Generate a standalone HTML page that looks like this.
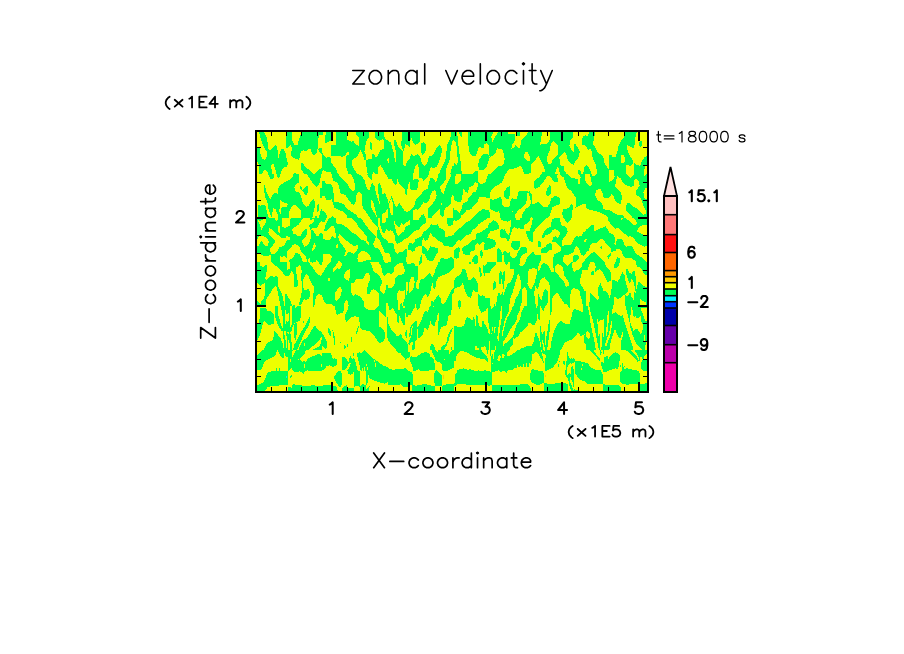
<!DOCTYPE html>
<html><head><meta charset="utf-8"><title>zonal velocity</title>
<style>
html,body{margin:0;padding:0;background:#fff;}
body{width:904px;height:654px;overflow:hidden;font-family:"Liberation Sans",sans-serif;}
svg{display:block;position:absolute;left:0;top:0;}
.g{fill:#00ff55}.y{fill:#eeff00}.c{fill:#00eeff}.o{fill:#ffcc00}
.t{fill:none;stroke:#000;stroke-linecap:round;stroke-linejoin:round}
.lbl{position:absolute;color:transparent;font-family:"Liberation Sans",sans-serif;white-space:nowrap;margin:0;line-height:1}
</style></head><body>

<svg width="904" height="654" viewBox="0 0 904 654">
<rect x="0" y="0" width="904" height="654" fill="#fff"/>
<defs><clipPath id="fc"><rect x="256" y="131" width="392" height="261"/></clipPath></defs>
<g clip-path="url(#fc)" shape-rendering="crispEdges">
<rect x="256" y="131" width="392" height="261" class="y"/>
<polygon class="g" points="257.1,131.8 264.0,131.8 267.0,138.0 268.0,145.3 268.8,150.8 271.7,149.0 275.3,145.0 277.2,147.2 277.9,154.1 277.5,160.7 279.4,154.8 281.2,149.3 283.4,149.3 285.2,151.9 286.7,158.5 288.1,164.3 286.7,166.5 283.0,168.0 281.2,171.6 280.8,174.0 257.1,174.0"/>
<polygon class="y" points="257.1,131.8 258.9,131.8 261.8,142.4 264.0,147.5 267.0,151.9 267.0,155.6 264.8,159.9 262.2,158.8 260.4,154.1 259.7,148.3 257.1,147.9"/>
<polygon class="y" points="257.1,160.7 258.9,164.3 258.9,174.0 257.1,174.0"/>
<polygon class="y" points="262.2,174.0 262.9,172.0 264.8,170.2 267.0,170.9 268.0,174.0"/>
<polygon class="y" points="272.4,174.0 271.7,170.2 271.0,165.8 272.1,163.2 273.5,164.3 275.3,169.4 276.4,174.0"/>
<polygon class="g" points="285.9,131.8 322.0,131.8 322.0,134.4 318.8,135.5 318.1,141.7 317.7,148.3 316.6,153.4 314.4,155.2 312.2,154.1 310.4,149.0 308.9,148.3 306.4,150.8 302.7,150.4 300.9,151.9 299.8,154.8 299.4,159.9 295.4,158.5 291.8,157.0 291.0,154.8 291.8,149.0 291.0,144.2 288.1,147.5 286.1,147.9"/>
<polygon class="y" points="292.1,131.8 302.7,131.8 300.5,135.1 299.1,139.5 297.2,145.7 294.7,145.0 292.5,141.0"/>
<polygon class="g" points="322.0,147.5 319.2,147.9 318.1,149.3 319.2,151.9 322.0,154.8"/>
<polygon class="g" points="300.9,163.2 302.7,162.9 305.6,167.2 308.6,169.4 311.5,172.3 313.7,174.0 304.2,174.0 301.3,169.4 300.7,165.0"/>
<polygon class="g" points="314.4,174.0 318.1,170.2 322.0,168.0 322.0,174.0"/>
<polygon class="g" points="293.6,174.0 294.3,172.7 296.2,173.1 296.5,174.0"/>
<polygon class="g" points="322.0,131.8 323.1,131.8 322.7,135.1 322.0,135.1"/>
<polygon class="g" points="326.0,131.8 331.1,131.8 331.1,141.0 329.3,141.0 325.7,143.9 324.9,138.8 325.7,134.4"/>
<polygon class="g" points="335.5,131.8 346.8,131.8 347.2,139.5 351.2,141.7 353.4,141.0 355.9,144.6 358.5,145.7 358.5,137.3 355.9,133.7 355.9,131.8 368.7,131.8 368.7,137.3 366.2,141.0 365.1,147.5 364.3,151.9 365.8,154.8 366.2,159.9 364.0,159.9 362.9,154.1 360.3,150.1 358.5,154.1 357.0,157.0 352.7,159.2 351.9,164.3 354.1,169.4 356.3,172.3 357.8,174.0 348.6,174.0 346.8,169.4 345.7,164.3 345.7,156.6 348.6,154.8 348.6,152.3 346.8,152.3 345.4,155.2 343.2,156.6 337.3,156.3 331.1,155.9 330.8,148.3 331.1,144.6 335.5,144.6"/>
<polygon class="g" points="322.0,152.6 324.2,155.9 326.4,157.6 329.3,157.0 330.9,158.8 331.5,163.2 334.8,167.2 337.0,170.9 337.7,174.0 331.1,174.0 330.4,171.6 327.1,172.3 323.5,170.2 322.0,171.6"/>
<polygon class="g" points="374.9,131.8 384.1,131.8 384.4,137.3 386.2,140.2 388.0,140.6 388.0,174.0 385.2,174.0 383.3,169.4 380.4,165.0 378.2,167.2 377.5,170.9 378.2,174.0 367.6,174.0 366.5,166.5 366.2,159.9 372.0,158.5 372.4,154.1 374.2,154.5 376.0,158.1 377.5,156.3 380.0,150.4 384.1,148.6 384.1,139.9 382.6,139.1 379.7,141.0 375.7,139.1"/>
<polygon class="g" points="369.8,142.0 372.0,143.1 372.4,151.2 370.6,149.7 369.8,146.1"/>
<polygon class="y" points="387.0,158.8 388.0,158.8 388.0,160.7 387.0,160.7"/>
<polygon class="y" points="373.1,174.0 373.5,172.3 374.6,172.7 374.9,174.0"/>
<polygon class="g" points="401.9,131.8 420.1,131.8 420.1,141.0 417.9,143.5 415.4,145.0 412.8,141.7 411.4,138.0 409.9,141.0 409.5,147.5 407.7,145.3 405.5,144.2 404.8,147.5 403.7,151.2 402.2,149.0 401.1,144.6 401.9,137.3"/>
<polygon class="g" points="388.0,141.0 390.9,142.0 392.4,148.3 393.8,152.6 394.6,159.2 395.7,162.9 396.0,154.1 395.3,148.3 393.8,143.1 394.2,139.9 395.7,140.2 398.2,146.8 400.8,149.7 403.3,151.2 402.6,157.7 403.7,166.5 405.9,165.8 407.0,161.4 409.5,159.2 411.0,154.1 413.2,155.6 415.4,155.6 417.6,153.7 420.1,156.6 421.2,161.4 423.0,165.0 424.5,165.8 427.8,162.1 428.2,158.1 429.6,155.9 431.8,156.6 434.7,151.9 436.2,148.3 439.1,145.3 440.9,145.7 442.0,150.4 440.9,155.6 439.1,160.7 438.0,164.3 436.2,167.2 433.3,168.0 431.1,167.2 429.6,170.2 428.9,174.0 419.4,174.0 418.7,168.0 417.6,164.3 416.1,165.0 414.3,169.4 413.2,174.0 388.0,174.0"/>
<polygon class="y" points="388.0,157.7 389.1,158.1 389.1,162.9 388.0,162.9"/>
<polygon class="g" points="421.2,143.5 423.8,142.0 426.0,144.6 426.3,149.0 424.5,152.6 422.3,155.2 421.0,151.9"/>
<polygon class="g" points="451.2,131.8 454.0,131.8 454.0,139.5 452.2,141.0 450.8,148.3 450.1,155.6 449.3,161.4 446.4,168.0 445.7,174.0 439.1,174.0 440.6,169.4 443.5,164.3 445.7,158.5 446.4,151.9 447.1,144.6 449.3,140.2 450.8,136.6"/>
<polygon class="g" points="454.0,165.8 452.2,166.5 450.8,170.9 450.4,174.0 454.0,174.0"/>
<polygon class="g" points="454.0,131.8 456.9,131.8 457.7,137.3 458.7,148.3 460.2,159.2 461.3,166.5 461.7,174.0 454.0,174.0 454.0,162.9 456.2,164.3 457.3,166.5 457.7,160.7 457.3,151.9 456.2,143.1 454.0,140.2"/>
<polygon class="g" points="459.1,131.8 462.0,131.8 461.7,136.6 459.8,136.2"/>
<polygon class="g" points="467.9,131.8 520.0,131.8 520.0,165.8 517.5,167.2 513.9,168.7 509.5,169.4 507.3,171.6 506.2,174.0 490.5,174.0 492.0,172.3 495.6,168.7 498.5,165.8 501.5,166.5 503.6,164.3 504.7,159.2 504.0,154.1 502.2,149.3 497.1,148.3 496.0,151.9 493.8,154.8 489.8,157.0 489.0,154.1 488.7,145.3 486.1,143.1 484.3,144.6 483.9,147.5 481.4,148.3 479.6,146.4 478.1,149.0 477.0,153.4 475.9,155.9 472.3,155.6 469.7,152.6 468.6,147.5 467.9,138.8"/>
<polygon class="y" points="491.2,137.3 493.4,131.8 499.3,131.8 497.8,132.9 494.9,136.6 492.7,142.4"/>
<polygon class="y" points="507.7,131.8 516.8,131.8 516.8,135.8 520.0,136.6 520.0,148.3 518.2,147.5 515.7,145.0 513.9,147.5 511.3,148.6 512.4,144.6 514.6,141.0 514.6,134.4 507.7,133.7"/>
<polygon class="g" points="483.2,154.1 488.3,154.5 489.8,157.0 488.3,161.4 486.9,166.5 483.2,170.2 479.6,169.8 478.1,166.5 478.8,160.7 481.0,157.0"/>
<polygon class="g" points="472.6,174.0 475.2,171.2 478.1,170.9 478.1,174.0"/>
<polygon class="g" points="520.0,131.8 586.0,131.8 586.0,174.0 520.0,174.0"/>
<polygon class="y" points="520.0,131.8 528.0,131.8 526.2,135.1 523.7,137.3 521.5,140.2 520.7,144.6 520.0,145.3"/>
<polygon class="y" points="542.6,131.8 549.9,131.8 549.6,140.2 547.0,143.9 544.1,144.6 541.9,143.9 540.4,145.3 540.1,143.5 541.2,140.2 541.5,135.8"/>
<polygon class="y" points="552.9,141.0 555.8,143.1 558.0,146.1 558.0,154.1 555.0,157.7 552.9,159.2 551.4,163.6 548.8,163.9 547.4,162.1 547.0,157.7 548.5,153.4 549.9,150.4 550.7,144.6"/>
<polygon class="y" points="525.5,152.3 527.7,152.3 529.5,155.6 529.9,161.4 527.3,161.0 524.7,158.5 524.0,155.6"/>
<polygon class="y" points="520.0,165.0 522.2,168.0 523.7,172.3 524.0,174.0 520.0,174.0"/>
<polygon class="y" points="538.6,155.9 540.4,159.9 543.0,165.0 544.8,169.8 544.5,171.6 541.9,172.3 541.9,174.0 527.7,174.0 531.0,172.3 531.0,165.0 533.9,162.1 536.4,158.5"/>
<polygon class="y" points="557.6,166.9 559.1,169.4 559.8,174.0 555.0,174.0 555.8,170.2"/>
<polygon class="y" points="572.9,131.8 586.0,131.8 586.0,135.1 583.5,135.8 582.1,139.5 582.4,144.6 586.0,145.7 586.0,174.0 581.3,174.0 580.6,170.9 578.4,169.8 578.0,174.0 566.7,174.0 564.5,170.9 563.8,166.5 559.8,165.0 559.4,157.0 564.2,151.9 566.7,154.8 567.5,159.2 571.1,164.3 574.0,164.7 575.5,160.7 578.4,157.7 579.9,151.9 577.7,147.5 575.5,144.2 574.0,144.2 573.7,151.9 571.1,149.7 569.3,146.1 570.0,141.0 572.6,138.0"/>
<polygon class="g" points="586.0,165.8 584.2,167.2 583.2,174.0 586.0,174.0"/>
<polygon class="g" points="588.9,131.8 594.8,131.8 594.4,137.3 593.3,141.7 592.9,144.2 595.5,147.5 598.0,152.6 601.3,154.8 603.5,157.7 604.3,162.9 607.2,167.2 608.6,168.7 609.4,170.9 609.4,174.0 597.0,174.0 596.2,165.0 592.9,159.2 591.8,151.9 590.4,149.0 588.2,149.7 586.0,146.4 586.0,136.6 588.2,135.8"/>
<polygon class="g" points="586.0,165.0 588.2,166.5 590.4,170.2 591.1,174.0 586.0,174.0"/>
<polygon class="g" points="624.0,131.8 637.1,131.8 635.6,135.8 634.6,144.6 633.5,147.9 630.5,146.8 627.6,145.0 626.9,148.3 629.1,154.1 632.0,159.2 633.5,162.9 630.5,165.8 626.5,165.0 625.8,169.4 626.2,174.0 614.1,174.0 613.7,170.5 609.4,169.8 609.4,154.5 611.2,154.5 612.3,156.6 615.6,156.6 617.4,151.9 618.5,146.1 621.0,141.0 624.0,137.3"/>
<polygon class="y" points="621.4,155.2 623.6,154.8 625.1,159.2 624.3,162.5 621.4,162.9 621.0,158.5"/>
<polygon class="g" points="640.0,141.0 642.2,141.3 641.9,145.3 640.4,146.9 638.9,145.7 639.2,142.8"/>
<polygon class="g" points="634.2,162.9 637.1,165.0 640.0,165.8 642.2,160.7 644.4,157.4 647.2,155.6 648.1,164.3 645.5,165.8 644.4,169.4 643.7,174.0 634.2,174.0"/>
<polygon class="g" points="268.0,174.0 274.3,174.0 273.9,177.7 272.1,179.8 270.2,178.4 268.8,175.8"/>
<polygon class="g" points="277.2,174.0 280.5,174.0 279.7,177.3 278.3,178.7 277.2,176.9"/>
<polygon class="g" points="292.9,174.0 299.1,174.0 298.7,182.8 295.8,184.2 294.3,187.9 295.8,191.5 299.8,192.6 301.3,197.4 302.7,203.2 306.4,206.9 308.6,206.1 310.8,201.7 313.7,199.2 315.1,203.2 314.4,209.0 312.9,214.9 312.2,218.0 300.5,218.0 300.9,210.5 297.6,206.9 294.0,204.3 291.0,207.6 289.2,211.2 288.9,218.0 277.9,218.0 277.9,214.9 275.3,209.0 273.2,208.3 272.4,212.7 272.4,218.0 271.7,218.0 270.6,214.9 268.4,208.3 267.7,203.2 265.5,198.1 264.4,192.3 263.7,185.7 264.8,185.0 266.2,190.8 268.0,195.9 270.6,198.8 272.8,194.4 275.0,193.0 277.5,193.7 277.9,188.6 280.1,185.0 285.2,182.0 289.6,179.8 292.9,176.9"/>
<polygon class="y" points="280.5,200.3 284.1,202.8 287.8,203.6 287.0,206.5 281.6,206.5 281.2,214.9 279.4,212.0 279.7,204.7"/>
<polygon class="g" points="257.5,203.9 260.4,205.8 263.3,204.7 265.1,204.7 265.9,206.9 267.0,212.7 268.8,218.0 257.5,218.0"/>
<polygon class="g" points="307.1,174.0 321.0,174.0 320.2,181.3 318.8,185.0 316.6,186.8 313.7,184.2 310.8,180.6 308.6,176.9"/>
<polygon class="g" points="320.2,188.6 322.0,187.1 322.0,198.1 320.2,197.4"/>
<polygon class="g" points="300.2,186.0 301.6,186.8 302.4,189.7 304.2,188.6 306.4,186.0 307.8,186.4 308.2,190.8 307.1,194.4 304.9,194.8 303.5,192.3 301.3,190.1 300.2,188.6"/>
<polygon class="g" points="317.3,204.7 318.8,203.9 318.8,210.5 317.3,212.0 316.6,208.3"/>
<polygon class="g" points="322.0,208.3 320.6,210.5 319.5,214.9 318.8,218.0 322.0,218.0"/>
<polygon class="g" points="314.8,218.0 315.5,216.0 317.3,216.0 317.3,218.0"/>
<polygon class="g" points="322.0,181.3 324.9,180.9 325.7,183.5 331.1,183.9 333.0,188.6 333.7,195.2 331.5,198.8 330.0,200.3 326.4,199.6 324.9,196.6 322.0,195.9"/>
<polygon class="g" points="331.5,174.0 338.4,174.0 341.0,177.7 344.6,180.6 347.6,184.2 349.7,187.9 352.7,190.8 354.5,190.4 354.5,182.8 353.4,178.4 351.2,174.0 358.9,174.0 362.9,177.7 365.1,181.3 365.8,185.7 367.6,189.3 369.8,190.4 370.9,185.7 372.4,182.8 374.6,186.4 376.0,193.0 377.5,198.1 379.7,204.7 380.4,206.5 381.9,204.7 382.2,195.2 384.1,193.0 386.2,195.2 387.0,198.8 388.0,199.6 388.0,209.0 386.2,209.8 384.8,213.4 382.6,212.7 382.2,218.0 377.5,218.0 376.0,213.4 374.6,207.6 373.1,201.7 371.6,199.9 370.9,203.2 371.6,208.3 374.6,213.4 376.8,218.0 370.2,218.0 366.5,212.7 362.9,208.3 361.8,203.2 361.8,194.4 360.0,192.3 357.8,192.3 356.3,195.9 355.9,201.0 354.1,204.7 351.9,204.3 348.3,199.6 345.4,195.2 340.3,193.3 339.5,188.6 337.7,182.8 333.3,180.6 332.2,176.9"/>
<polygon class="g" points="379.3,182.8 380.8,185.0 382.2,190.8 382.6,195.2 382.2,204.7 380.4,206.5 379.7,201.7 378.6,195.9 378.2,188.6 378.2,185.0"/>
<polygon class="g" points="366.9,174.0 371.6,174.0 372.0,180.6 369.5,178.4"/>
<polygon class="g" points="386.2,174.0 388.0,174.0 388.0,177.7 387.0,176.9"/>
<polygon class="g" points="322.0,210.9 324.9,212.0 326.7,214.9 327.1,218.0 322.0,218.0"/>
<polygon class="g" points="330.8,218.0 332.6,215.6 334.0,218.0"/>
<polygon class="g" points="331.5,198.8 333.7,195.2 334.4,201.7 340.3,202.8 343.9,204.7 346.8,208.3 351.2,211.6 356.3,214.9 358.5,218.0 347.6,218.0 346.8,214.9 343.9,212.0 338.8,209.8 334.0,207.6 333.0,203.2"/>
<polygon class="g" points="388.0,174.0 412.8,174.0 412.5,178.4 413.6,179.8 417.2,178.4 418.7,180.6 417.9,187.1 416.1,190.4 412.1,190.4 409.9,188.6 409.9,181.3 407.7,185.0 407.3,194.4 406.3,194.8 405.2,193.0 404.8,189.3 399.0,183.9 397.5,179.1 397.1,183.5 395.3,185.7 393.5,182.8 392.0,179.5 388.0,179.1"/>
<polygon class="g" points="419.0,174.0 428.9,174.0 427.4,176.9 423.8,180.9 421.6,178.4 419.0,178.4"/>
<polygon class="g" points="438.4,174.0 436.9,181.3 435.5,181.7 433.3,178.4 430.3,178.4 428.9,182.8 427.8,188.6 423.8,190.4 420.9,194.4 417.2,198.1 415.4,201.0 414.3,206.1 412.1,209.0 407.3,212.0 404.4,210.5 401.9,206.9 399.3,203.2 396.8,206.9 395.3,206.1 393.8,201.7 392.4,198.1 391.3,195.9 390.6,198.8 388.0,203.9 388.0,218.0 412.8,218.0 413.2,210.5 415.7,209.0 417.9,209.8 420.1,207.6 421.9,204.7 423.8,202.1 426.0,203.9 428.9,201.0 430.3,195.9 432.5,191.5 434.7,190.1 436.2,191.5 436.6,195.9 434.7,201.0 431.8,204.7 428.0,209.0 427.8,218.0 431.1,218.0 434.7,213.8 438.4,210.5 439.8,209.0 440.2,214.9 442.0,217.1 443.9,215.6 444.2,210.5 445.7,207.6 448.6,206.1 450.8,203.2 451.2,198.1 452.2,195.2 454.0,195.9 454.0,174.0 450.8,174.0 450.8,176.9 448.6,180.6 446.4,185.0 445.3,189.3 443.5,193.7 441.7,192.3 440.2,188.6 440.6,185.7 444.2,182.0 446.4,178.4 445.7,174.0"/>
<polygon class="y" points="390.9,199.2 392.0,198.8 393.1,205.4 393.1,214.9 391.3,214.9 389.8,210.5 389.1,204.7"/>
<polygon class="y" points="440.9,202.8 442.0,202.8 442.0,205.0 440.9,205.0"/>
<polygon class="g" points="420.1,218.0 421.6,214.9 423.8,214.2 425.2,218.0"/>
<polygon class="g" points="454.0,207.6 453.0,209.0 452.6,218.0 454.0,218.0"/>
<polygon class="g" points="454.0,174.0 505.1,174.0 503.6,178.4 502.2,182.0 498.5,185.0 493.8,187.1 491.2,190.8 490.1,193.0 490.1,198.1 487.6,197.7 485.4,197.4 479.2,197.4 477.4,202.5 473.7,205.4 471.5,209.0 466.4,210.5 464.2,213.4 461.3,215.6 460.9,218.0 454.0,218.0"/>
<polygon class="y" points="455.8,174.0 460.9,174.0 460.6,180.6 457.7,184.6 455.5,183.5 455.3,176.9"/>
<polygon class="y" points="478.1,174.0 488.3,174.0 486.9,178.4 485.4,182.0 483.2,183.5 479.6,183.5 478.1,181.3"/>
<polygon class="y" points="475.5,182.0 477.7,183.5 477.4,188.6 475.9,191.5 473.0,192.3 471.2,195.2 468.6,198.1 466.8,202.1 463.1,203.2 462.0,206.9 460.9,210.5 459.5,212.7 456.9,210.5 454.0,209.8 454.0,200.3 457.7,201.7 461.3,201.7 462.0,197.4 463.1,193.0 463.3,189.0 466.0,192.3 467.5,192.6 469.3,187.5 472.6,185.7"/>
<polygon class="g" points="483.2,209.0 486.1,209.8 489.0,210.5 489.8,213.4 490.1,218.0 472.3,218.0 475.2,214.9 478.8,212.0 481.7,209.8"/>
<polygon class="g" points="490.1,198.8 492.7,199.6 496.3,199.2 499.3,197.0 500.7,197.4 502.2,201.0 502.6,205.4 505.1,206.9 509.5,206.5 510.2,201.7 512.0,198.1 513.9,199.2 516.1,199.6 517.5,195.9 518.6,191.5 520.0,190.8 520.0,209.0 517.5,211.2 515.3,214.2 515.0,218.0 500.0,218.0 499.6,213.4 498.5,211.2 496.3,212.0 493.4,210.5 490.1,209.0"/>
<polygon class="y" points="512.0,210.9 513.1,210.9 513.1,212.0 512.0,212.0"/>
<polygon class="g" points="509.5,186.0 510.2,188.6 510.2,194.4 508.8,198.5 505.8,198.5 504.0,195.9 504.4,191.5 506.6,188.2"/>
<polygon class="g" points="540.8,174.0 558.0,174.0 556.5,176.2 558.0,178.4 558.0,181.7 554.3,181.7 552.1,179.1 549.6,176.2 547.0,175.5 545.6,178.4 543.4,182.0 539.7,186.4 535.7,189.0 533.9,187.1 533.9,181.3 536.8,178.4 540.1,176.9"/>
<polygon class="g" points="549.6,185.0 551.4,187.9 551.4,193.0 549.2,195.5 546.6,195.9 545.9,192.3 547.4,188.2"/>
<polygon class="g" points="559.8,174.0 586.0,174.0 586.0,203.9 582.1,204.3 578.4,206.1 575.5,207.6 575.9,198.1 574.0,195.2 571.1,190.8 567.8,188.6 565.6,183.5 563.8,177.7 561.6,176.2"/>
<polygon class="y" points="567.5,174.0 578.4,174.0 580.6,176.9 579.9,183.5 578.4,183.9 577.7,179.1 571.1,177.7"/>
<polygon class="y" points="584.6,174.0 586.0,174.0 586.0,181.3 584.8,181.3"/>
<polygon class="g" points="520.0,190.8 524.4,191.5 528.0,190.4 529.1,193.0 527.3,193.3 527.3,198.1 525.8,203.2 522.2,207.6 520.0,209.8"/>
<polygon class="g" points="528.8,190.4 531.7,194.4 532.0,203.2 534.2,204.7 535.7,202.8 539.0,202.1 541.2,204.7 542.6,206.5 547.7,206.5 549.9,203.2 551.0,198.8 554.3,196.3 558.0,196.6 560.0,198.8 560.0,203.9 556.5,205.4 552.1,207.2 551.0,212.0 549.6,215.6 548.1,218.0 532.0,218.0 531.3,217.1 531.0,218.0 521.5,218.0 522.2,214.2 525.8,209.0 529.5,206.1 531.0,203.2 530.2,198.1 529.1,195.2"/>
<polygon class="g" points="563.1,209.0 568.2,208.3 570.4,205.4 571.8,203.9 572.9,206.1 572.9,209.0 571.8,212.0 571.5,218.0 563.1,218.0 562.3,213.4"/>
<polygon class="g" points="586.0,174.0 648.1,174.0 648.1,218.0 586.0,218.0"/>
<polygon class="y" points="586.0,174.0 589.7,174.0 591.1,178.4 591.8,185.0 590.0,186.8 587.5,183.5 586.0,182.8"/>
<polygon class="y" points="591.5,174.0 595.9,174.0 595.5,175.5 591.8,175.5"/>
<polygon class="y" points="609.4,174.0 614.1,174.0 614.8,176.9 613.0,179.8 609.4,181.7"/>
<polygon class="y" points="626.9,174.0 634.2,174.0 632.7,176.2 630.2,178.0 628.3,176.2"/>
<polygon class="y" points="643.7,174.0 646.2,174.0 644.4,175.8"/>
<polygon class="y" points="648.1,187.1 648.1,199.6 644.4,198.1 643.3,192.3 645.1,188.6"/>
<polygon class="y" points="617.4,176.2 620.3,178.0 623.2,182.8 626.2,185.3 630.5,186.8 633.5,186.0 634.2,180.6 635.6,178.4 638.6,180.9 639.7,185.7 636.4,190.4 636.4,195.2 640.0,197.4 642.2,201.7 643.7,206.1 645.9,210.5 645.5,214.2 642.9,214.9 640.0,212.0 636.4,208.3 632.7,206.1 629.8,203.2 627.2,203.2 626.2,206.1 626.5,210.5 629.1,213.4 631.3,215.6 632.0,218.0 624.7,218.0 623.2,215.6 620.3,214.9 616.7,214.5 612.3,212.0 609.4,210.1 606.4,210.5 603.2,208.3 602.1,203.2 597.0,199.6 595.1,194.4 596.2,189.7 600.6,189.3 602.4,192.3 603.2,196.6 605.3,198.5 609.0,198.1 611.2,194.4 613.0,194.8 614.5,198.8 615.9,202.1 620.3,204.3 621.8,198.8 621.4,193.0 618.1,189.7 615.2,186.4 615.9,181.3"/>
<polygon class="y" points="586.0,207.2 588.9,209.8 593.3,210.5 599.1,212.0 604.3,214.9 607.2,216.3 607.9,218.0 586.0,218.0"/>
<polygon class="g" points="257.1,218.0 322.0,218.0 322.0,262.0 257.1,262.0"/>
<polygon class="y" points="257.8,219.8 260.4,220.9 263.3,219.1 265.9,219.1 265.5,223.1 263.3,226.8 261.5,230.0 260.0,225.3"/>
<polygon class="y" points="274.3,218.0 277.9,218.0 277.2,221.3 275.7,220.2"/>
<polygon class="y" points="282.3,218.0 291.8,218.0 289.9,219.5 289.9,225.3 285.2,227.9 282.3,226.8"/>
<polygon class="y" points="278.3,226.4 279.7,226.0 280.5,231.1 279.7,233.7 278.3,231.9"/>
<polygon class="y" points="269.1,228.2 271.7,229.3 275.7,233.3 280.1,236.6 281.6,238.1 285.9,238.4 286.3,236.3 288.1,236.6 289.9,237.7 289.6,239.9 286.3,240.6 284.8,245.0 281.6,246.5 279.0,247.2 277.9,250.9 275.0,253.8 271.3,254.5 269.9,249.4 272.4,245.7 275.3,241.4 272.8,238.4 269.9,235.5 268.4,232.6"/>
<polygon class="y" points="258.9,235.9 263.3,236.3 267.0,237.7 268.8,241.4 268.0,245.7 265.9,246.5 263.3,243.6 261.5,241.0 260.0,242.8 258.9,245.7 257.1,245.7 257.1,239.9"/>
<polygon class="y" points="257.1,253.8 260.4,254.1 263.3,256.0 267.7,256.0 271.0,254.9 271.0,262.0 257.1,262.0"/>
<polygon class="y" points="303.5,218.0 310.0,218.0 310.4,219.8 314.4,219.1 314.4,221.7 311.5,223.8 308.6,225.3 306.4,228.2 302.7,231.5 300.5,235.5 298.0,236.3 295.8,234.4 292.9,233.7 292.1,229.0 295.4,226.8 298.3,224.9 300.5,221.7"/>
<polygon class="y" points="308.6,225.3 310.8,230.4 310.8,238.4 309.7,242.1 307.1,245.7 304.6,246.8 302.7,243.6 302.0,240.3 304.2,238.8 306.4,235.5 307.1,231.9 306.4,228.2"/>
<polygon class="y" points="322.0,220.9 322.0,232.6 319.5,233.7 318.1,236.3 316.6,236.3 315.1,233.3 312.9,230.4 310.8,230.4 312.9,227.5 316.6,227.9 318.4,225.3 319.9,222.4"/>
<polygon class="y" points="314.4,243.2 315.9,245.7 314.4,249.4 312.6,251.6 312.2,248.7 313.3,245.4"/>
<polygon class="y" points="294.0,244.3 297.6,244.6 299.8,247.9 301.3,251.6 304.2,254.5 306.4,257.4 306.7,262.0 302.7,262.0 301.3,257.4 299.1,253.8 295.4,253.0 294.0,256.7 290.3,259.6 288.1,262.0 280.1,262.0 280.5,256.3 281.9,257.4 284.1,255.2 285.6,257.4 287.4,258.9 287.4,251.6 290.3,248.7 292.1,245.7"/>
<polygon class="y" points="308.6,258.2 310.0,258.2 310.0,262.0 308.2,262.0"/>
<polygon class="y" points="316.6,260.3 318.1,262.0 315.1,262.0"/>
<polygon class="g" points="322.0,218.0 388.0,218.0 388.0,262.0 322.0,262.0"/>
<polygon class="y" points="322.0,222.4 324.9,221.7 326.4,218.0 329.3,218.0 327.1,221.7 324.9,226.0 324.2,231.1 326.4,230.8 331.5,226.0 333.7,226.0 335.1,229.0 335.5,232.6 335.9,237.7 334.4,238.4 333.0,235.9 331.1,237.7 330.0,239.9 327.1,239.9 323.5,239.2 323.1,234.1 322.0,233.3"/>
<polygon class="y" points="335.5,218.0 351.2,218.0 354.1,220.2 356.3,223.1 358.5,226.8 360.7,229.7 364.3,233.3 366.5,236.3 366.9,239.9 368.7,242.8 369.8,246.5 368.0,245.0 365.8,241.4 362.9,239.9 360.0,239.2 358.1,236.3 354.9,233.7 351.2,231.9 347.6,228.2 343.9,225.3 340.3,223.5 336.6,223.5"/>
<polygon class="y" points="360.3,218.0 369.5,218.0 373.1,222.4 376.4,226.0 378.2,227.5 377.5,230.4 376.4,236.3 379.7,239.9 381.9,245.7 384.1,250.9 385.5,253.0 388.0,253.0 388.0,262.0 384.1,262.0 382.6,256.0 380.4,251.6 378.2,248.7 375.3,247.9 373.1,244.3 374.6,240.6 376.0,237.0 373.1,234.1 369.5,229.7 365.8,225.3 362.9,220.9"/>
<polygon class="y" points="378.2,218.0 380.4,218.0 380.4,225.3 382.6,231.9 384.8,233.7 386.2,228.2 388.0,230.4 388.0,242.1 386.2,239.9 384.1,238.4 381.9,236.3 380.4,232.6 378.9,228.2 378.2,225.3"/>
<polygon class="y" points="382.2,218.0 385.9,218.0 385.5,222.4 384.1,223.8 382.2,222.4"/>
<polygon class="y" points="339.2,234.1 341.0,235.5 344.6,239.2 348.3,242.1 351.2,244.3 354.1,246.1 357.8,245.0 358.1,247.2 357.0,250.1 355.6,252.3 354.1,253.8 349.7,251.9 347.2,253.0 346.1,256.0 343.9,256.7 345.0,253.0 346.1,250.9 343.9,247.2 341.0,243.6 339.2,240.6 338.1,237.0"/>
<polygon class="y" points="336.6,243.9 338.1,243.9 338.1,247.6 336.2,247.9"/>
<polygon class="y" points="323.1,254.1 326.4,254.5 329.3,254.1 331.9,256.3 331.1,259.6 330.8,262.0 323.1,262.0"/>
<polygon class="y" points="361.8,251.2 365.8,251.6 369.5,254.5 370.9,257.4 371.6,260.0 367.3,260.0 363.6,261.1 362.9,262.0 358.5,262.0 357.4,258.9 357.8,255.2 359.6,252.7"/>
<polygon class="y" points="338.4,261.1 339.9,261.1 339.9,262.0 338.4,262.0"/>
<polygon class="g" points="388.0,218.0 413.2,218.0 413.2,219.5 418.7,219.5 419.0,218.0 426.0,218.0 425.6,223.1 423.0,224.6 420.1,227.1 419.4,229.7 415.7,230.4 412.1,233.7 408.4,237.0 404.8,239.2 401.9,241.4 397.5,243.9 395.7,242.1 394.9,237.0 394.2,233.7 392.0,230.8 390.2,230.0 388.0,231.9"/>
<polygon class="y" points="394.2,220.2 395.3,223.8 398.2,226.8 400.0,226.4 401.1,223.1 403.7,224.9 405.2,223.5 409.5,220.2 409.9,224.6 407.7,225.7 405.2,227.1 404.4,231.1 401.1,233.3 398.2,235.9 396.4,233.3 395.3,228.2 394.2,223.8"/>
<polygon class="g" points="454.0,235.2 447.9,236.3 445.7,237.7 444.9,235.5 444.6,231.1 442.0,229.0 439.1,227.5 437.6,224.2 434.7,225.3 431.1,224.2 428.9,228.2 426.0,230.4 423.0,232.2 421.9,236.3 418.7,237.7 415.4,239.2 414.6,242.1 412.8,243.6 409.5,242.8 408.1,245.4 408.1,250.1 411.4,250.5 412.8,251.9 414.6,250.5 416.1,246.8 421.6,246.1 421.7,242.8 422.3,239.9 423.4,238.1 425.2,240.6 427.8,240.3 428.9,237.0 430.3,233.0 433.3,236.6 435.5,238.1 438.4,240.6 442.0,242.8 444.9,246.1 451.5,246.8 454.0,246.1"/>
<polygon class="g" points="421.9,246.1 423.8,245.7 425.6,247.9 427.4,250.9 429.2,248.7 430.3,246.1 431.8,246.8 434.7,247.2 438.0,248.7 438.4,252.3 436.2,254.5 434.7,257.8 433.3,260.3 430.3,261.1 427.8,260.0 426.0,257.4 425.2,254.5 422.3,253.0"/>
<polygon class="g" points="419.4,262.0 419.8,258.2 421.6,254.9 422.2,257.4 421.9,262.0"/>
<polygon class="g" points="388.0,242.8 390.9,243.6 393.1,242.8 394.2,247.2 395.3,252.3 397.1,253.8 399.7,252.3 402.6,251.6 405.5,249.0 407.0,249.4 406.6,254.5 406.3,262.0 390.9,262.0 390.9,257.4 389.5,254.5 388.0,253.0"/>
<polygon class="g" points="447.1,218.0 454.0,218.0 454.0,220.9 453.0,221.3 452.6,225.3 448.6,225.7 447.1,223.8"/>
<polygon class="g" points="440.2,262.0 440.6,258.5 442.0,257.8 444.2,258.5 447.9,258.9 450.1,257.1 452.2,257.4 454.0,259.6 454.0,262.0"/>
<polygon class="g" points="454.0,218.0 459.8,218.0 459.1,219.8 456.2,220.9 454.0,220.2"/>
<polygon class="g" points="472.3,218.0 487.9,218.0 486.1,219.5 482.5,221.7 478.1,224.6 475.9,228.2 472.3,230.0 470.8,234.1 466.4,235.2 463.5,238.4 461.3,240.6 457.7,240.3 455.5,243.6 454.0,245.0 454.0,234.1 456.2,231.1 460.6,227.5 464.2,223.8 467.1,221.7 470.8,220.2"/>
<polygon class="g" points="493.8,220.2 497.1,222.4 498.9,225.3 498.5,229.0 494.9,230.4 490.5,231.5 488.3,234.8 487.2,238.1 489.8,238.4 492.3,238.8 494.9,240.6 496.0,243.6 494.9,246.5 492.0,248.3 488.3,249.4 484.7,250.5 483.9,247.2 484.7,242.8 483.6,242.1 481.7,242.8 479.6,244.6 477.4,243.2 475.5,245.0 475.2,248.7 473.7,250.5 470.8,251.2 469.7,254.5 466.8,255.6 463.5,253.8 462.0,250.1 462.8,247.2 465.3,245.7 468.2,244.6 471.5,240.6 473.7,239.9 475.5,239.2 475.9,233.7 478.8,233.3 483.9,230.0 487.6,227.5 489.0,223.8 492.0,221.7"/>
<polygon class="g" points="481.4,250.1 482.5,252.3 482.5,256.0 481.4,257.8 480.3,255.2 480.1,251.9"/>
<polygon class="g" points="458.7,246.8 459.8,248.7 459.5,252.3 458.7,257.4 456.6,258.9 454.0,257.8 454.0,250.9 456.2,248.7"/>
<polygon class="g" points="471.9,262.0 472.3,258.9 474.4,256.0 476.6,254.9 478.1,257.4 478.5,262.0"/>
<polygon class="g" points="500.7,218.0 510.6,218.0 510.6,220.2 508.0,221.7 504.4,220.9 501.5,219.8"/>
<polygon class="g" points="511.3,218.0 515.3,218.0 516.1,219.5 520.0,219.8 520.0,228.2 516.8,228.6 513.9,227.1 512.4,229.7 510.9,233.3 510.2,236.3 509.1,239.9 508.0,241.7 505.8,238.4 504.0,238.1 501.5,238.4 500.0,236.3 500.0,230.0 501.5,229.0 503.6,230.0 504.7,229.0 506.2,232.6 508.0,235.2 510.2,232.6 510.6,225.3"/>
<polygon class="g" points="512.4,241.4 517.5,241.4 519.0,241.0 520.0,241.4 520.0,247.2 519.0,247.6 518.2,250.1 515.3,250.5 512.4,248.3 510.9,245.7 511.3,242.8"/>
<polygon class="g" points="497.8,248.3 499.6,248.7 501.5,252.3 502.6,254.5 504.4,250.5 505.8,251.6 508.0,253.0 509.9,251.2 510.2,256.0 511.7,257.4 514.6,257.8 516.8,256.0 517.9,251.6 520.0,250.1 520.0,262.0 497.1,262.0 496.7,256.0 497.1,250.9"/>
<polygon class="y" points="501.5,255.2 503.6,254.5 504.4,258.9 504.0,262.0 502.2,262.0 501.8,258.9"/>
<polygon class="g" points="520.0,218.0 529.9,218.0 529.9,220.9 527.3,223.1 524.4,224.9 523.7,228.6 520.0,229.0"/>
<polygon class="g" points="533.1,218.0 546.3,218.0 543.4,221.3 541.2,223.5 538.3,226.4 535.3,229.3 533.5,232.2 533.1,238.4 532.8,241.7 529.9,241.4 528.0,237.7 525.8,232.6 526.6,231.1 529.5,230.8 531.0,226.8 532.0,222.4"/>
<polygon class="g" points="552.1,219.5 554.3,218.0 559.8,218.0 560.5,222.4 561.6,225.3 564.5,226.4 566.7,228.2 567.8,231.5 566.0,235.5 563.8,237.7 562.3,239.9 562.3,245.7 564.2,246.5 564.5,245.0 571.1,245.0 572.6,242.1 574.0,238.4 576.2,236.3 579.1,236.6 582.1,235.5 582.8,232.6 586.0,231.1 586.0,238.4 584.2,240.6 584.2,241.7 586.0,242.1 586.0,253.0 583.5,255.6 581.3,255.2 579.9,251.6 578.4,247.2 576.2,246.1 574.4,248.7 573.7,251.6 571.1,253.8 567.5,254.9 563.8,255.2 563.1,258.9 563.1,262.0 553.2,262.0 553.2,257.4 554.3,254.5 558.0,252.7 560.5,251.2 560.9,247.2 559.4,245.4 557.2,243.6 555.0,242.1 552.1,241.7 553.2,237.3 555.8,235.9 557.2,238.1 559.4,236.3 559.8,232.6 558.0,230.0 555.0,229.3 552.5,229.7 551.4,232.6 548.5,234.4 545.6,234.8 544.1,238.1 542.3,238.4 541.9,235.9 543.4,233.3 545.2,230.0 547.4,228.2 550.7,226.8 551.4,223.1"/>
<polygon class="g" points="564.2,218.0 571.1,218.0 570.4,220.9 567.5,222.7 565.3,220.9"/>
<polygon class="g" points="538.3,241.0 540.1,241.4 541.2,243.6 540.8,246.8 538.3,246.8 537.9,243.6"/>
<polygon class="g" points="549.6,243.2 551.4,243.6 552.1,245.7 551.8,249.4 549.2,250.5 547.0,252.3 544.8,253.4 541.2,253.4 541.2,248.7 543.4,247.9 545.6,246.5 547.4,244.3"/>
<polygon class="g" points="520.0,247.9 522.9,246.5 525.8,246.5 526.9,248.7 526.9,252.3 524.4,253.8 521.5,256.0 520.0,258.9"/>
<polygon class="g" points="533.1,251.9 535.3,254.5 541.2,254.9 541.2,257.4 540.4,262.0 526.2,262.0 526.6,258.2 529.5,255.2"/>
<polygon class="g" points="574.0,255.2 577.7,254.5 579.1,256.7 578.4,258.9 576.2,261.1 575.5,262.0 572.6,262.0 572.9,257.4"/>
<polygon class="g" points="584.2,262.0 585.0,259.6 586.0,258.5 586.0,262.0"/>
<polygon class="g" points="607.9,218.0 648.1,218.0 648.1,225.3 643.7,224.9 640.0,226.0 638.2,228.2 637.1,231.5 640.0,233.0 643.7,234.8 648.1,235.2 648.1,245.0 644.4,246.8 641.5,245.4 637.8,243.6 635.6,241.4 633.5,237.7 630.5,236.3 627.6,236.6 624.7,233.7 621.8,231.1 619.6,229.0 617.8,227.5 615.6,229.0 613.0,226.8 610.1,223.1 608.6,220.9"/>
<polygon class="y" points="621.4,218.0 622.9,218.0 622.1,219.8 621.0,219.5"/>
<polygon class="y" points="625.4,218.0 633.5,218.0 636.4,220.9 636.7,223.8 634.2,225.7 631.3,222.4 628.3,220.2"/>
<polygon class="g" points="586.0,229.7 588.9,228.2 591.1,225.3 593.7,225.3 594.4,231.5 598.4,229.0 602.8,227.9 605.3,226.0 607.2,228.6 609.4,232.6 613.7,234.8 614.8,238.4 614.5,243.6 615.2,246.8 615.9,242.8 617.4,239.5 621.8,239.2 623.2,241.4 624.7,245.7 626.9,246.8 629.8,245.4 632.7,247.2 634.2,250.9 637.1,254.5 641.5,257.4 644.4,259.6 646.6,262.0 637.1,262.0 633.5,259.6 631.3,257.8 628.3,257.8 625.4,258.2 623.2,256.0 621.8,251.6 619.6,249.4 616.7,248.3 615.9,250.9 613.4,251.2 611.2,252.7 610.8,248.7 608.6,245.7 605.7,242.8 602.8,238.8 601.0,238.4 599.1,239.9 597.0,242.8 591.8,243.6 589.7,246.5 588.9,250.9 586.0,251.9 586.0,240.6 587.1,240.3 587.1,239.2 586.0,238.8"/>
<polygon class="g" points="601.0,246.1 602.1,246.5 601.7,248.7 600.2,247.9"/>
<polygon class="g" points="610.1,253.0 611.2,253.8 610.1,256.7 608.3,258.9 607.2,256.3"/>
<polygon class="g" points="586.0,258.5 588.9,256.0 591.8,252.7 594.8,252.3 597.7,255.2 600.6,258.2 603.5,261.1 604.3,262.0 586.0,262.0"/>
<polygon class="g" points="615.9,262.0 616.3,258.9 617.8,257.1 619.6,258.2 620.3,262.0"/>
<polygon class="g" points="257.1,262.0 259.7,262.0 260.4,265.7 263.3,267.5 265.5,264.9 267.0,265.7 266.6,271.5 265.9,276.6 265.1,278.1 266.6,280.6 268.4,277.7 270.6,276.2 274.3,276.6 277.2,276.2 277.9,278.8 277.9,283.9 278.6,287.2 280.8,291.2 282.6,296.3 283.7,301.4 284.1,306.0 280.1,306.0 279.4,300.0 277.9,292.7 276.4,286.8 275.0,286.1 272.8,289.0 270.6,292.7 268.8,295.6 266.2,299.2 265.5,302.9 265.9,306.0 257.1,306.0"/>
<polygon class="y" points="257.1,282.4 260.4,286.1 263.3,283.9 265.1,283.2 264.8,291.2 264.4,298.5 261.1,301.8 260.4,304.3 258.9,302.2 257.1,301.1"/>
<polygon class="g" points="271.7,262.0 286.7,262.0 286.7,266.4 287.4,270.4 289.6,268.6 289.9,262.0 308.6,262.0 310.8,264.9 314.4,270.0 316.6,273.0 320.2,275.9 322.0,274.4 322.0,294.9 318.8,294.1 315.9,296.3 315.1,301.4 314.4,306.0 313.3,306.0 312.9,298.5 313.7,291.2 313.7,286.1 311.5,283.2 309.3,278.8 308.6,275.9 306.4,274.0 304.2,277.3 303.1,280.3 303.5,287.6 304.9,290.5 308.6,289.0 309.7,291.9 310.4,295.6 308.6,298.5 306.4,300.0 304.2,299.2 302.7,301.4 301.3,304.3 299.8,306.0 299.1,302.9 300.5,298.5 301.6,292.7 302.0,283.9 301.3,279.5 301.6,270.8 300.5,265.7 299.1,265.3 296.5,267.5 296.2,272.2 298.3,283.9 296.9,286.8 294.7,287.9 294.0,283.9 294.0,276.6 293.2,273.0 291.8,270.4 290.3,273.0 289.6,275.1 287.8,275.9 285.2,275.5 283.0,273.0 280.1,269.3 277.2,266.4 274.3,264.9"/>
<polygon class="g" points="311.1,262.0 313.7,262.0 312.6,263.1"/>
<polygon class="g" points="319.2,262.0 322.0,262.0 322.0,264.2 321.0,264.9 319.5,264.2"/>
<polygon class="g" points="285.2,294.1 287.0,294.5 288.9,298.5 291.0,301.4 292.1,306.0 284.8,306.0"/>
<polygon class="g" points="293.2,306.0 293.6,305.1 295.1,305.1 295.4,306.0"/>
<polygon class="g" points="322.0,262.0 388.0,262.0 388.0,306.0 322.0,306.0"/>
<polygon class="y" points="322.0,262.0 330.0,262.0 327.8,264.9 324.9,268.6 323.5,272.2 322.0,273.7"/>
<polygon class="y" points="338.4,262.0 341.0,262.0 342.1,264.9 341.0,267.8 339.2,268.9 337.7,268.2 335.9,270.0 333.3,271.9 333.0,269.3 334.8,266.4 336.6,264.2"/>
<polygon class="y" points="349.7,268.9 350.1,276.6 348.6,280.6 346.5,279.5 344.3,277.7 343.9,274.8 346.1,271.5"/>
<polygon class="y" points="328.2,278.1 330.0,278.1 330.0,280.6 328.2,280.6"/>
<polygon class="y" points="340.3,286.1 341.7,289.7 341.3,295.2 339.5,297.8 335.9,301.8 335.1,298.5 335.1,292.7 337.7,289.0"/>
<polygon class="y" points="366.5,273.0 368.7,273.0 369.8,275.9 369.5,281.0 368.0,284.6 366.9,289.7 367.3,293.8 369.5,294.1 371.6,289.7 373.8,289.4 376.8,290.8 378.9,293.4 378.9,306.0 364.3,306.0 363.6,301.4 360.7,297.0 357.0,294.9 354.9,294.1 353.4,295.9 351.6,294.1 351.2,289.7 351.2,283.2 354.1,282.4 355.9,279.5 360.0,279.2 362.9,278.8 365.1,275.1"/>
<polygon class="y" points="370.2,262.0 378.2,262.0 380.4,264.9 381.9,269.3 382.6,273.0 384.1,276.6 385.5,275.1 388.0,272.2 388.0,285.4 386.2,284.6 385.5,289.7 384.1,294.9 382.6,293.4 380.4,290.5 380.0,287.6 381.5,283.9 381.5,280.3 379.7,276.6 376.0,273.0 373.1,270.8 372.0,266.4"/>
<polygon class="y" points="384.4,262.0 388.0,262.0 388.0,262.7 384.8,262.7"/>
<polygon class="y" points="322.0,295.9 323.5,300.0 325.7,303.6 329.3,304.3 331.5,304.0 333.7,306.0 322.0,306.0"/>
<polygon class="y" points="346.8,300.0 347.9,301.1 348.6,306.0 343.9,306.0 344.3,302.9"/>
<polygon class="y" points="386.2,303.2 388.0,303.6 388.0,306.0 386.2,306.0"/>
<polygon class="g" points="388.0,262.0 454.0,262.0 454.0,306.0 388.0,306.0"/>
<polygon class="y" points="388.0,272.2 390.2,273.7 393.1,273.3 394.2,270.8 394.6,266.4 397.9,264.2 399.7,263.1 402.6,263.5 403.7,266.4 404.8,269.3 404.4,273.7 401.5,274.8 397.5,275.5 395.3,278.1 394.9,283.9 393.1,286.1 390.9,288.6 388.7,287.9 388.0,286.8"/>
<polygon class="y" points="406.3,262.0 418.7,262.0 419.4,264.9 422.3,262.0 438.7,262.0 437.6,264.9 435.5,269.3 434.7,272.6 432.5,276.6 431.1,275.9 430.0,273.0 427.8,274.8 423.8,278.4 420.9,279.5 419.4,283.2 418.7,289.0 416.8,289.4 416.1,286.1 416.1,282.4 417.9,279.5 418.3,273.0 417.9,266.4 415.7,266.0 414.6,263.8 412.1,263.1 409.2,264.6 407.3,264.2"/>
<polygon class="y" points="411.4,277.0 413.9,277.3 414.6,281.0 414.3,286.1 412.5,290.1 409.5,292.7 409.2,287.6 409.2,283.2 410.3,279.2"/>
<polygon class="y" points="406.3,282.4 407.7,282.1 407.7,289.7 407.0,296.3 405.9,294.1 406.1,287.6"/>
<polygon class="y" points="399.3,290.1 401.1,291.6 403.7,290.5 405.2,289.4 405.5,294.1 404.4,300.0 403.0,302.9 402.6,306.0 401.9,306.0 401.5,302.9 400.4,304.3 400.0,306.0 398.2,306.0 397.5,300.0 397.1,293.4"/>
<polygon class="y" points="454.0,267.5 454.0,286.8 451.5,290.5 449.3,294.1 447.9,297.8 445.7,301.4 443.5,303.6 441.7,303.6 440.6,298.5 438.4,295.2 436.6,297.0 434.7,300.0 432.5,302.9 432.5,301.1 431.1,301.4 430.7,306.0 420.1,306.0 420.9,301.4 422.7,297.8 425.2,293.4 426.7,294.9 427.8,297.8 429.6,294.1 431.1,289.7 431.8,283.9 432.7,283.2 432.9,286.8 434.4,289.7 435.8,286.1 436.6,280.3 438.0,277.7 441.3,275.9 445.7,274.0 448.6,272.6 451.5,270.0"/>
<polygon class="y" points="452.6,293.4 454.0,292.7 454.0,306.0 452.2,306.0 452.2,298.5"/>
<polygon class="y" points="415.4,306.0 415.4,304.3 416.1,304.3 416.1,306.0"/>
<polygon class="g" points="454.0,280.3 456.2,277.3 459.1,275.1 461.3,273.0 462.0,269.3 465.3,269.3 466.4,273.0 467.5,276.6 468.6,279.9 470.4,280.6 472.3,278.1 473.7,277.0 475.9,279.5 477.7,283.2 478.1,292.7 475.9,291.9 473.7,290.1 472.6,291.2 471.9,294.9 470.8,298.1 468.6,297.0 466.4,294.1 465.0,290.5 463.5,285.4 462.4,283.2 460.9,286.1 456.9,287.6 454.0,289.4"/>
<polygon class="g" points="469.0,262.0 471.2,262.0 470.8,263.8 469.0,263.8"/>
<polygon class="g" points="474.1,262.0 478.1,262.0 477.0,263.8 474.4,264.2"/>
<polygon class="g" points="487.6,262.0 496.3,262.0 495.6,264.9 493.4,267.5 491.2,269.3 490.1,272.6 486.1,273.0 486.1,270.8 485.0,274.4 484.3,277.0 483.6,274.4 483.2,269.3 483.2,265.3 485.0,266.4 486.1,264.2"/>
<polygon class="g" points="479.2,267.1 480.3,267.5 481.4,271.5 481.7,275.9 480.6,277.0 479.6,273.0"/>
<polygon class="g" points="494.5,281.0 496.0,282.4 496.0,286.8 494.5,289.7 493.1,290.1 493.1,283.9"/>
<polygon class="g" points="500.4,270.8 501.5,273.0 502.2,271.5 504.4,270.8 505.1,273.0 504.7,277.3 504.4,278.8 503.6,283.2 502.9,286.8 502.2,283.9 502.2,279.5 501.1,279.5 500.4,283.9 499.3,283.9 499.1,278.1 499.3,273.7"/>
<polygon class="g" points="514.2,268.6 515.3,269.3 515.2,273.7 514.2,278.1 511.7,281.0 508.8,283.9 506.6,287.6 505.1,291.2 503.6,294.9 502.6,294.1 503.6,289.0 505.1,285.4 508.0,281.7 510.9,278.8 513.1,275.1 514.0,272.2"/>
<polygon class="g" points="516.8,274.8 518.6,273.3 520.0,273.0 520.0,286.8 518.2,290.5 516.1,294.1 514.6,298.5 514.2,306.0 496.3,306.0 497.1,300.0 497.8,295.6 498.5,292.7 500.7,296.3 502.9,296.3 505.8,291.9 508.8,286.8 512.4,283.2 515.3,279.5"/>
<polygon class="y" points="512.4,286.1 514.6,283.9 513.9,289.7 512.4,294.1 510.9,300.0 510.2,306.0 508.0,306.0 508.8,300.0 509.9,294.1 510.9,289.7"/>
<polygon class="g" points="509.9,262.0 514.6,262.0 514.6,264.2 514.2,268.6 511.7,268.9 509.9,267.8"/>
<polygon class="g" points="519.3,262.0 520.0,262.0 520.0,269.3 519.0,266.4"/>
<polygon class="g" points="458.4,300.7 459.8,300.0 461.3,301.8 461.3,306.0 458.0,306.0"/>
<polygon class="g" points="478.5,294.1 480.3,296.3 482.1,295.2 483.9,295.6 485.4,297.8 487.6,298.5 489.8,298.1 490.1,306.0 478.1,306.0 477.7,300.0"/>
<polygon class="g" points="520.0,262.0 586.0,262.0 586.0,306.0 520.0,306.0"/>
<polygon class="y" points="520.0,262.0 525.1,262.0 523.7,264.2 521.5,266.7 520.0,266.7"/>
<polygon class="y" points="540.1,262.0 552.5,262.0 552.5,266.4 553.9,268.9 553.6,271.5 551.4,272.2 550.3,269.3 548.8,266.4 546.3,263.8 543.4,263.1 541.2,264.9 540.1,269.3 538.3,271.5 537.5,268.9 538.6,265.7"/>
<polygon class="y" points="529.5,268.9 533.5,268.2 537.2,269.3 537.2,273.0 535.7,276.6 535.3,282.4 533.1,285.4 531.3,289.4 529.9,288.3 528.4,285.4 527.3,283.2 528.4,279.5 528.0,271.5"/>
<polygon class="y" points="520.0,280.3 521.1,280.3 521.1,287.6 520.0,287.6"/>
<polygon class="y" points="522.2,288.6 525.1,287.2 526.9,289.0 526.2,291.2 525.5,298.5 525.1,306.0 521.1,306.0 521.8,298.5"/>
<polygon class="y" points="544.1,277.0 546.6,279.9 549.2,282.8 549.9,286.8 549.9,306.0 546.3,306.0 548.1,301.4 548.1,293.4 547.4,290.1 545.2,289.4 543.4,291.9 542.3,297.0 541.5,300.0 540.1,298.9 539.3,296.3 538.3,293.4 537.5,291.2 537.9,306.0 535.7,306.0 535.0,300.0 534.2,292.7 535.3,286.1 536.4,287.6 537.9,289.7 539.0,284.6 540.1,280.6"/>
<polygon class="y" points="558.0,264.2 560.9,264.9 562.7,267.8 563.8,271.5 564.5,275.5 566.7,279.2 568.9,282.4 568.6,285.7 566.0,286.8 564.5,283.2 563.4,280.3 560.2,278.1 558.0,274.4 555.4,271.5 554.7,267.5 556.1,264.9"/>
<polygon class="y" points="563.1,262.0 571.1,262.0 567.5,265.7 565.3,264.2"/>
<polygon class="y" points="572.6,262.0 582.8,262.0 582.1,265.7 579.9,269.3 576.9,270.0 574.4,271.9 572.6,269.3 572.2,264.9"/>
<polygon class="y" points="582.1,270.4 586.0,270.0 586.0,290.5 584.2,291.2 582.8,286.8 580.6,285.4 580.2,279.5 581.3,275.1"/>
<polygon class="y" points="573.7,288.3 576.9,289.0 579.9,291.2 580.6,296.3 582.1,301.4 582.8,306.0 570.4,306.0 570.4,294.9 571.1,290.5"/>
<polygon class="y" points="556.9,293.0 558.7,294.1 560.5,297.8 563.1,301.4 564.9,304.3 566.7,304.0 567.8,306.0 552.1,306.0 552.5,298.5 553.9,295.6"/>
<polygon class="g" points="586.0,262.0 590.0,262.0 588.9,265.7 587.8,269.7 586.0,269.7"/>
<polygon class="g" points="594.0,262.0 604.3,262.0 606.4,266.4 609.4,270.0 611.2,273.0 611.2,280.3 607.9,282.1 606.4,280.3 604.3,275.9 602.4,272.2 600.6,269.7 598.8,269.3 595.5,271.9 594.8,269.3 595.9,267.1"/>
<polygon class="g" points="591.8,271.1 593.7,271.5 593.7,274.4 591.8,275.9 590.7,274.4"/>
<polygon class="g" points="615.2,262.0 619.9,262.0 618.9,265.7 616.7,267.8 614.1,267.8 614.1,264.9"/>
<polygon class="g" points="636.0,262.0 646.2,262.0 648.1,263.5 648.1,275.9 644.4,274.4 642.2,270.0 639.3,267.1 636.7,266.4"/>
<polygon class="g" points="622.5,272.2 624.7,275.1 625.4,280.3 626.9,286.1 628.3,291.2 625.4,294.1 622.5,295.6 620.3,297.8 618.1,299.6 615.2,296.3 614.1,297.0 613.4,306.0 589.3,306.0 589.7,298.5 590.0,293.0 593.3,295.9 597.7,300.0 599.5,298.5 598.4,295.6 597.7,289.0 599.1,285.4 600.6,283.2 601.7,286.1 603.5,290.5 607.2,291.9 609.4,296.3 609.7,300.0 611.2,291.2 611.9,286.1 611.9,280.3 614.8,280.3 617.4,282.1 619.6,278.8 621.0,274.4"/>
<polygon class="g" points="626.2,269.3 627.6,269.3 629.4,272.6 631.3,274.0 633.5,271.1 634.9,271.5 635.6,276.6 636.4,285.4 636.7,294.1 636.0,294.1 634.9,286.8 633.5,282.4 632.0,279.2 630.9,279.5 630.2,283.9 629.1,283.2 627.6,278.1 626.5,275.1"/>
<polygon class="g" points="638.6,282.1 640.8,282.8 643.7,286.1 648.1,287.9 648.1,306.0 625.4,306.0 625.4,294.9 627.6,296.3 629.1,294.1 629.8,291.9 630.9,294.1 631.6,297.0 633.5,300.0 634.2,296.3 634.6,291.2 636.4,294.1 637.1,286.1"/>
<polygon class="y" points="640.4,299.2 644.4,301.8 646.2,302.9 645.9,305.1 640.0,305.1"/>
<polygon class="g" points="260.0,308.2 266.2,307.8 267.0,311.1 270.6,311.5 273.5,314.0 274.3,319.1 273.9,323.5 271.7,324.3 268.4,325.0 265.9,322.8 264.4,321.0 262.9,323.5 261.8,327.9 260.4,333.0 258.9,337.4 257.1,340.3 257.1,324.3 258.9,323.5 259.7,317.0 260.4,312.6"/>
<polygon class="g" points="275.3,306.0 300.9,306.0 300.9,314.8 300.2,320.6 296.9,322.1 294.0,323.5 292.5,327.2 291.8,330.8 289.6,333.0 286.7,331.2 283.7,331.6 281.6,330.8 279.4,327.9 277.2,323.5 275.7,318.4 274.6,313.3 275.0,308.9"/>
<polygon class="y" points="277.9,306.0 280.8,306.0 281.6,310.4 282.6,317.0 283.0,324.3 282.6,327.9 281.2,325.7 279.4,319.1 277.9,313.3"/>
<polygon class="y" points="285.2,308.9 286.7,314.8 288.1,312.9 289.2,313.3 288.9,319.1 288.1,322.1 286.3,320.6 285.6,324.3 284.8,320.6 284.5,313.3"/>
<polygon class="y" points="290.3,306.0 292.1,306.0 292.1,314.8 291.8,323.5 290.7,327.9 289.9,323.5 290.2,313.3"/>
<polygon class="y" points="295.1,306.0 296.9,306.0 296.5,307.5 295.1,307.5"/>
<polygon class="g" points="282.6,331.6 284.1,332.3 284.8,336.7 285.9,342.5 286.7,350.0 283.7,350.0 284.1,344.0 283.4,338.1 282.6,335.2"/>
<polygon class="g" points="285.9,331.2 287.0,331.6 288.1,334.5 288.9,333.7 290.3,333.0 291.0,337.4 291.8,344.0 292.1,350.0 290.3,350.0 289.6,344.0 288.9,338.9 288.1,341.0 288.5,346.9 288.1,350.0 287.0,350.0 287.4,344.0 286.7,337.4"/>
<polygon class="g" points="274.3,330.8 276.4,333.0 278.6,335.9 280.8,338.9 282.3,342.5 283.4,346.9 283.7,350.0 263.3,350.0 264.8,346.9 267.0,343.2 269.9,341.8 272.8,340.3 273.9,335.2"/>
<polygon class="g" points="296.2,322.1 297.2,324.3 296.9,329.4 296.5,335.2 295.8,340.3 294.7,341.0 294.3,335.2 294.0,330.1 293.6,326.4 294.7,323.5"/>
<polygon class="g" points="309.7,317.0 310.4,317.7 309.7,322.8 307.8,327.2 305.6,330.8 303.5,335.2 301.3,340.3 299.1,345.4 297.6,348.3 296.9,350.0 293.2,350.0 294.0,345.4 296.9,340.3 299.8,334.5 302.7,329.4 305.6,325.0 307.8,320.6"/>
<polygon class="g" points="303.5,321.0 304.2,321.3 303.8,323.2 303.1,322.8"/>
<polygon class="g" points="315.1,325.7 316.6,327.9 318.8,330.1 321.0,331.6 322.0,331.6 322.0,336.7 319.5,339.6 316.6,342.5 313.7,345.4 310.8,347.6 308.6,350.0 298.3,350.0 300.5,345.4 302.7,340.3 307.1,338.1 308.6,335.2 310.8,331.6 312.9,327.9"/>
<polygon class="g" points="322.0,338.9 321.0,341.0 320.2,345.4 318.1,346.9 314.4,349.1 312.2,350.0 322.0,350.0"/>
<polygon class="y" points="304.2,342.9 305.1,342.9 304.9,345.8 304.0,345.4"/>
<polygon class="g" points="312.9,306.0 314.4,306.0 313.7,307.1"/>
<polygon class="g" points="335.1,306.0 343.9,306.0 343.9,310.4 342.1,314.0 341.0,312.9 339.9,313.7 337.7,314.8 335.9,312.9"/>
<polygon class="g" points="348.6,306.0 364.0,306.0 365.8,308.2 368.7,310.4 373.5,310.4 376.0,308.2 378.9,306.0 385.9,306.0 385.9,317.7 384.4,316.2 381.9,312.9 379.3,310.7 378.9,314.8 378.6,327.2 380.4,326.8 382.6,328.6 384.8,332.3 385.2,338.1 383.3,341.8 380.4,342.9 377.9,341.8 376.0,338.5 373.1,334.5 369.8,331.2 365.8,330.5 361.8,329.7 360.0,327.2 359.6,322.1 358.5,317.3 354.9,316.2 351.6,317.3 349.0,319.9 346.5,321.7 345.0,319.1 345.4,314.0 347.2,311.1"/>
<polygon class="g" points="387.0,317.0 388.0,317.0 388.0,338.9 386.6,336.7 386.6,327.9"/>
<polygon class="g" points="322.0,334.1 323.5,334.5 324.9,337.4 326.7,341.0 327.1,346.9 325.7,348.7 323.5,346.9 322.0,346.2"/>
<polygon class="g" points="328.2,327.9 330.0,329.4 331.1,332.3 330.8,335.9 328.9,334.5 328.0,331.6"/>
<polygon class="g" points="332.2,329.0 333.3,330.8 334.4,335.2 335.1,339.6 335.0,344.7 334.0,344.7 333.7,338.9 333.0,334.5"/>
<polygon class="g" points="358.1,325.7 359.1,326.1 358.1,330.1 356.7,334.1 355.9,333.0 357.0,329.4"/>
<polygon class="g" points="351.2,337.0 352.1,337.0 351.9,341.8 351.1,341.8"/>
<polygon class="g" points="343.9,344.0 345.4,345.4 346.1,346.9 344.6,349.1 343.8,348.3"/>
<polygon class="g" points="347.2,344.0 347.9,344.0 347.9,346.9 347.2,346.9"/>
<polygon class="g" points="339.9,341.8 341.0,341.8 341.0,342.9 339.9,342.9"/>
<polygon class="g" points="389.1,306.0 415.7,306.0 413.6,308.9 411.4,313.3 409.9,315.5 409.2,314.0 408.1,315.5 407.7,317.0 406.6,317.0 405.9,313.7 405.2,313.3 405.2,325.0 403.7,325.7 402.6,322.8 400.8,319.1 399.3,315.5 399.0,322.8 397.5,322.4 397.1,314.8 393.8,310.4 393.1,307.5 392.0,307.8 390.9,310.4 389.5,310.4"/>
<polygon class="y" points="398.2,306.0 399.7,306.0 399.5,310.4 398.6,310.4"/>
<polygon class="y" points="403.0,306.0 405.2,306.0 404.9,307.6 403.2,307.6"/>
<polygon class="g" points="388.0,323.2 389.8,326.4 391.7,330.1 395.7,333.7 396.0,338.1 396.8,335.2 398.2,336.7 400.0,334.1 401.5,335.2 402.6,338.1 404.8,340.3 406.6,341.8 407.7,344.0 408.1,350.0 396.0,350.0 395.3,349.1 392.4,346.2 390.2,343.2 388.0,341.0"/>
<polygon class="g" points="415.4,321.3 416.8,321.0 417.2,323.5 417.6,327.9 417.2,335.2 416.8,340.3 415.0,341.0 415.0,345.4 414.3,350.0 412.1,350.0 412.5,345.4 412.8,341.8 410.6,342.5 409.5,345.4 408.4,344.0 408.8,341.0 410.6,337.4 412.1,333.7 412.5,327.9 413.2,324.3 411.4,327.9 411.0,335.2 409.9,338.1 409.2,335.2 409.9,330.1 410.6,326.4 412.5,323.9"/>
<polygon class="g" points="406.3,330.1 407.1,330.1 407.3,335.2 406.6,338.1 405.2,335.2 405.4,332.3"/>
<polygon class="g" points="426.7,310.4 427.8,312.6 430.0,306.0 433.3,306.0 433.3,306.7 434.7,306.0 451.9,306.0 451.5,310.4 450.8,314.4 448.6,315.5 447.9,319.9 446.8,324.3 445.7,326.1 443.5,326.4 441.3,327.2 439.8,330.8 438.7,336.7 438.0,331.6 438.4,323.5 438.7,317.0 438.4,311.1 437.6,314.8 436.9,319.1 435.5,322.1 434.7,326.4 431.8,325.0 430.7,320.6 430.0,323.9 428.9,327.2 427.8,330.1 426.0,328.6 424.5,327.9 423.8,331.6 422.3,335.2 420.1,337.4 418.3,338.1 417.9,331.6 418.3,326.4 420.1,322.8 421.9,319.1 423.0,315.5 424.1,312.6"/>
<polygon class="g" points="416.1,306.0 420.1,306.0 419.4,308.2 417.6,310.4 416.8,308.9"/>
<polygon class="g" points="454.0,326.4 452.2,330.1 450.1,335.2 448.6,340.3 447.1,344.7 445.7,346.9 444.2,350.0 440.6,350.0 440.6,347.6 443.5,345.4 446.4,343.2 447.1,338.1 448.6,333.7 450.8,329.4 453.0,327.2"/>
<polygon class="g" points="431.8,343.2 433.3,344.7 434.7,347.6 435.5,350.0 430.0,350.0 430.3,346.2"/>
<polygon class="g" points="451.2,350.0 451.4,347.2 452.2,347.2 452.2,350.0"/>
<polygon class="g" points="454.0,306.0 520.0,306.0 520.0,350.0 454.0,350.0"/>
<polygon class="y" points="454.0,306.0 457.7,306.0 459.5,308.9 461.3,306.0 478.8,306.0 479.9,310.4 481.7,313.3 483.2,311.8 486.1,310.4 487.2,307.5 487.9,307.5 488.3,313.3 488.3,320.6 489.0,327.9 490.1,330.8 489.8,334.5 488.3,332.3 486.9,327.2 484.7,324.3 483.2,320.6 482.1,320.6 482.1,326.4 481.0,327.9 479.2,325.7 478.1,320.6 477.4,315.5 475.9,314.8 475.9,326.4 475.2,326.4 474.8,319.1 473.3,317.0 473.0,319.9 471.2,319.5 467.1,317.0 465.0,320.6 464.6,324.3 462.8,326.4 459.1,327.5 456.2,326.1 454.0,325.7"/>
<polygon class="y" points="490.5,306.0 493.8,306.0 492.7,308.2 491.2,308.6"/>
<polygon class="y" points="492.0,327.2 492.7,327.2 492.7,330.8 492.0,331.6"/>
<polygon class="y" points="494.5,327.2 495.6,327.2 495.2,330.8 494.2,334.5 493.8,330.8"/>
<polygon class="y" points="490.9,333.0 492.0,333.0 492.0,334.1 490.9,334.1"/>
<polygon class="y" points="500.7,306.0 501.8,306.0 501.8,311.8 501.5,319.1 500.0,327.9 499.3,335.2 498.9,340.3 497.8,342.5 497.4,338.1 497.8,331.6 498.9,324.3 500.0,317.0 500.6,310.4"/>
<polygon class="y" points="509.1,306.0 512.8,306.0 511.7,309.7 509.5,314.0 507.3,317.7 505.8,322.1 504.4,327.9 502.9,333.7 502.2,338.1 501.8,333.7 502.6,329.4 504.0,323.5 505.1,319.1 507.3,314.0 509.1,310.4"/>
<polygon class="y" points="520.0,310.4 520.0,319.1 518.2,322.1 516.1,325.7 514.6,330.8 513.5,335.2 511.7,338.1 508.8,340.3 506.6,342.5 504.4,344.0 503.6,346.2 502.9,345.4 503.3,341.8 505.1,338.9 507.3,335.2 509.1,331.6 511.7,327.2 514.6,323.5 516.8,319.1 517.5,314.8 519.0,311.8"/>
<polygon class="y" points="520.0,333.7 520.0,350.0 509.5,350.0 510.2,347.6 512.4,345.4 513.1,341.0 512.8,338.1 514.6,338.9 517.5,336.7 519.0,335.2"/>
<polygon class="y" points="475.2,346.2 476.6,346.2 477.4,348.0 478.8,348.3 478.8,350.0 475.2,350.0"/>
<polygon class="y" points="481.0,346.9 482.1,347.6 483.9,346.5 485.4,346.2 486.1,348.3 486.1,350.0 481.0,350.0"/>
<polygon class="y" points="489.0,341.0 490.1,341.0 490.1,350.0 489.0,350.0"/>
<polygon class="y" points="494.9,346.2 496.0,346.2 496.0,350.0 494.9,350.0"/>
<polygon class="g" points="524.4,306.0 536.1,306.0 536.4,308.9 537.2,306.0 540.4,306.0 540.4,308.2 540.1,313.3 539.7,320.6 538.6,319.1 537.9,314.8 537.2,314.0 537.5,318.4 535.7,322.8 534.6,324.6 532.0,325.0 530.2,323.2 528.4,323.5 526.9,327.2 522.9,330.1 521.5,331.9 520.0,331.6 520.0,318.8 521.1,314.0 521.8,310.4 523.7,308.2"/>
<polygon class="g" points="540.8,306.0 545.6,306.0 544.5,308.2 543.7,310.7 542.6,310.7 541.5,308.2"/>
<polygon class="g" points="550.1,306.0 552.0,306.0 551.8,310.4 551.0,314.8 549.9,314.8"/>
<polygon class="g" points="574.0,309.3 577.7,309.7 580.6,311.5 582.8,311.5 582.8,306.0 586.0,306.0 586.0,344.0 584.2,343.2 583.9,337.4 584.6,334.1 582.8,335.2 580.6,335.9 578.8,333.4 577.7,333.0 576.2,335.2 574.0,338.1 571.1,339.9 567.5,341.0 564.5,343.2 562.3,346.9 560.9,350.0 550.3,350.0 550.7,345.4 551.8,338.9 552.9,335.2 554.3,330.8 555.8,327.2 558.0,323.5 559.8,321.3 561.2,321.0 563.4,322.8 565.3,323.9 569.6,323.5 570.4,320.6 571.5,317.0 572.2,312.6"/>
<polygon class="g" points="567.8,306.0 570.4,306.0 569.6,307.8"/>
<polygon class="g" points="549.2,319.9 550.1,320.2 549.9,327.9 549.2,335.2 548.5,340.3 547.7,345.4 547.0,350.0 545.2,350.0 545.6,344.0 546.3,337.4 547.7,330.1 548.5,324.3"/>
<polygon class="g" points="544.1,331.2 545.0,331.2 544.8,336.7 544.7,342.5 544.8,346.9 543.7,345.8 543.4,340.3 543.5,335.2"/>
<polygon class="g" points="540.1,325.7 541.2,326.4 541.5,331.6 541.9,336.7 542.6,333.7 543.7,331.6 543.4,336.7 542.6,338.9 542.3,341.0 542.6,345.4 543.0,350.0 541.2,350.0 540.8,344.0 540.1,338.1 539.7,331.6"/>
<polygon class="g" points="535.3,333.0 536.8,333.4 537.9,336.7 539.3,340.3 540.4,345.4 540.8,350.0 520.0,350.0 521.5,348.3 525.1,346.9 528.0,345.4 531.0,346.5 532.0,344.7 533.5,341.8 534.2,338.1"/>
<polygon class="g" points="586.0,306.0 648.1,306.0 648.1,350.0 586.0,350.0"/>
<polygon class="y" points="587.5,306.0 589.3,306.0 590.0,310.4 591.5,315.5 592.9,320.6 594.0,325.0 595.1,330.8 596.2,336.7 597.3,342.5 598.4,346.9 598.8,350.0 595.9,350.0 595.1,345.4 594.0,339.6 592.9,334.5 591.8,329.4 590.7,324.3 590.0,319.1 589.3,313.3 588.2,308.9"/>
<polygon class="y" points="586.0,331.6 588.2,331.2 589.7,333.7 589.7,338.1 588.2,338.9 586.0,336.7"/>
<polygon class="y" points="597.3,319.1 598.0,319.5 598.8,322.8 599.9,319.5 600.6,320.6 602.8,319.5 603.9,319.1 603.9,327.9 603.5,336.7 602.8,335.2 602.4,331.6 601.7,336.7 601.7,344.0 601.3,350.0 600.2,350.0 600.2,342.5 599.9,335.2 599.1,333.0 598.8,336.7 598.0,335.2 597.7,327.9"/>
<polygon class="y" points="607.9,311.1 609.0,311.5 609.0,319.1 608.3,325.0 607.5,331.6 606.8,336.7 606.1,335.2 606.4,327.9 607.2,320.6 607.5,314.8"/>
<polygon class="y" points="611.2,321.0 612.1,321.3 611.6,327.9 610.5,333.7 609.4,338.1 607.9,341.8 606.8,345.4 606.1,346.9 605.1,345.4 605.7,342.5 607.2,338.1 609.0,333.7 610.1,327.9"/>
<polygon class="y" points="613.0,306.0 625.8,306.0 626.5,310.4 628.0,315.5 629.4,321.3 629.8,324.3 630.5,327.9 632.0,333.0 633.5,337.4 635.6,342.5 638.6,346.2 641.5,349.1 642.2,350.0 633.5,350.0 632.0,344.0 629.8,338.1 628.0,332.3 626.2,327.2 624.7,322.8 623.6,318.4 622.9,315.1 621.0,316.2 618.1,314.8 615.2,312.2 612.3,313.7 612.4,309.7"/>
<polygon class="y" points="630.9,306.0 632.7,310.4 633.5,316.2 634.9,317.7 635.6,316.2 637.1,318.4 639.3,318.0 640.4,315.1 640.8,318.4 641.5,322.1 642.9,325.0 642.6,330.1 640.8,334.5 640.0,332.3 638.6,330.8 637.8,328.6 636.7,330.1 636.4,328.6 634.9,330.1 633.5,330.8 632.4,327.9 631.3,325.0 630.2,322.8 630.5,315.5 630.7,310.4"/>
<polygon class="y" points="640.4,307.5 648.1,307.5 648.1,322.1 645.1,320.6 643.7,317.0 642.2,311.8 640.8,309.7"/>
<polygon class="y" points="614.8,329.4 615.9,329.7 616.3,332.3 618.1,335.9 619.9,338.9 621.0,338.1 622.1,332.3 622.9,332.6 622.5,336.7 621.4,340.3 621.0,345.4 621.4,350.0 609.4,350.0 610.1,345.4 611.2,340.3 612.6,335.2 614.1,331.6"/>
<polygon class="y" points="644.4,334.5 645.0,334.5 644.8,340.3 644.0,341.0"/>
<polygon class="y" points="645.9,341.8 648.1,341.8 648.1,350.0 645.1,350.0 645.5,345.4"/>
<polygon class="g" points="257.1,355.1 260.4,352.2 262.6,350.0 277.2,350.0 276.1,353.7 275.0,356.2 270.6,358.0 267.7,359.5 264.0,362.4 262.9,366.8 261.1,369.7 257.1,370.1"/>
<polygon class="g" points="277.5,350.7 281.2,357.3 283.7,358.0 284.5,352.9 285.9,356.6 287.8,357.3 288.1,371.2 289.6,370.4 291.0,367.5 292.5,369.7 294.7,372.6 296.9,371.9 299.8,371.2 302.7,372.6 303.8,374.1 304.9,371.2 307.1,370.4 311.5,370.8 322.0,370.8 322.0,356.6 318.8,353.7 314.4,355.8 310.0,357.3 307.1,359.5 306.0,361.7 304.9,362.0 304.2,359.5 302.7,362.4 300.9,361.0 300.2,358.8 301.6,356.6 304.2,354.4 306.0,350.0 295.8,350.0 294.0,353.7 292.5,357.3 291.4,357.3 292.1,352.9 292.9,350.0 277.9,350.0"/>
<polygon class="y" points="289.9,358.8 290.9,358.8 290.9,362.0 289.9,362.0"/>
<polygon class="y" points="298.0,359.1 299.1,359.1 299.1,360.2 298.0,360.2"/>
<polygon class="y" points="304.2,364.2 304.8,364.2 304.8,367.5 304.2,367.5"/>
<polygon class="y" points="321.3,364.2 322.0,364.2 322.0,367.2 321.3,367.2"/>
<polygon class="g" points="268.0,371.9 275.7,370.8 276.4,368.3 277.2,368.3 277.5,370.8 279.0,370.8 279.2,368.3 279.9,368.3 280.5,370.8 287.8,371.2 287.8,385.0 285.2,385.0 279.4,385.4 277.2,386.5 275.0,386.1 270.6,386.1 267.7,387.2 265.1,390.5 257.1,390.9 257.1,385.0 260.4,384.3 263.3,382.1 265.5,377.7 267.0,374.1"/>
<polygon class="c" points="285.9,376.1 287.0,376.1 287.0,377.9 285.9,377.9"/>
<polygon class="g" points="288.1,387.2 291.0,386.9 291.8,388.0 292.1,385.0 294.0,383.9 295.4,385.0 299.8,385.0 302.7,385.8 307.1,385.8 312.9,385.4 322.0,385.8 322.0,392.0 288.1,392.0"/>
<polygon class="g" points="291.0,374.8 292.1,375.2 291.0,377.7 290.2,377.4"/>
<polygon class="g" points="322.0,352.9 330.8,352.9 332.2,357.3 336.6,359.5 337.7,363.1 335.9,366.1 333.0,366.8 329.3,365.7 326.4,366.1 324.2,369.7 322.0,370.1"/>
<polygon class="y" points="331.9,355.8 333.0,355.8 334.0,358.8 333.0,359.5"/>
<polygon class="y" points="326.7,366.8 327.7,366.8 327.7,369.7 326.7,369.7"/>
<polygon class="y" points="329.3,364.6 329.9,364.6 329.9,369.0 329.3,369.0"/>
<polygon class="g" points="342.1,357.3 343.9,356.6 346.1,358.8 348.3,362.4 349.7,357.3 350.8,355.1 351.9,359.5 354.1,357.3 355.6,362.4 357.0,368.3 357.8,370.4 360.0,371.2 360.3,392.0 354.1,392.0 354.5,380.7 354.1,371.2 352.7,374.1 350.5,374.8 348.3,373.4 347.2,370.4 349.4,367.5 351.2,362.4 349.0,363.1 346.8,367.5 343.9,370.4 342.4,370.4 341.7,364.6"/>
<polygon class="g" points="337.7,371.9 340.3,370.4 341.7,373.4 342.1,379.2 341.7,384.3 340.3,388.0 338.1,385.0 335.1,380.7 333.7,377.7 335.5,374.8"/>
<polygon class="g" points="322.0,385.8 324.9,385.0 330.8,385.0 334.4,385.8 337.3,387.2 337.7,392.0 322.0,392.0"/>
<polygon class="g" points="341.7,392.0 342.4,388.0 345.4,385.8 346.8,385.0 347.2,387.2 348.3,388.0 351.2,388.0 354.1,388.0 354.1,392.0"/>
<polygon class="y" points="355.2,386.1 358.5,386.1 360.0,388.0 360.0,392.0 354.1,392.0 354.1,388.0"/>
<polygon class="g" points="364.3,350.0 367.3,352.9 370.2,355.8 374.6,359.5 378.9,362.4 382.6,365.3 388.0,367.5 388.0,382.1 384.8,383.6 378.9,382.1 374.6,381.0 370.9,379.2 368.7,377.0 368.4,374.1 368.0,381.4 367.3,384.3 365.8,385.0 365.8,371.2 362.9,370.4 360.7,371.2 360.0,368.3 359.2,363.1 357.8,358.8 357.0,353.7 360.0,351.5 360.7,353.7 362.9,351.5"/>
<polygon class="y" points="363.6,365.0 364.3,365.0 364.3,366.4 363.6,366.4"/>
<polygon class="y" points="366.2,364.2 366.9,364.2 366.9,366.4 366.2,366.4"/>
<polygon class="y" points="374.2,359.5 374.9,359.5 374.9,361.7 374.2,361.7"/>
<polygon class="y" points="375.3,363.1 376.0,363.1 376.0,366.8 375.3,366.8"/>
<polygon class="y" points="362.2,368.3 362.9,368.3 362.9,370.8 362.2,370.8"/>
<polygon class="y" points="364.0,367.2 364.7,367.2 364.7,370.8 364.0,370.8"/>
<polygon class="y" points="367.3,367.2 368.0,367.2 368.0,369.7 367.3,369.7"/>
<polygon class="g" points="365.8,392.0 366.5,388.7 368.7,386.5 370.2,385.0 370.2,386.5 369.1,388.0 369.1,392.0"/>
<polygon class="g" points="353.0,352.9 354.0,352.9 354.0,355.8 353.0,355.8"/>
<polygon class="g" points="360.0,385.8 362.9,384.3 365.8,385.0 365.8,392.0 360.0,392.0"/>
<polygon class="g" points="394.9,350.0 429.6,350.0 430.3,356.6 433.3,358.8 434.7,363.1 434.7,370.4 431.8,370.1 427.4,370.8 423.8,371.5 420.1,370.4 418.3,368.3 417.2,370.4 413.2,370.8 412.1,364.6 409.9,361.7 410.3,356.6 407.7,358.0 405.5,359.5 402.6,356.6 400.4,352.9 399.0,353.7 396.8,351.5"/>
<polygon class="y" points="409.9,350.0 429.6,350.0 430.0,353.7 428.9,353.7 426.0,352.2 422.3,352.9 418.7,355.1 415.4,357.3 413.2,357.3 411.4,356.2 410.3,356.6"/>
<polygon class="y" points="408.1,350.0 409.9,350.0 409.9,351.8 408.1,351.8"/>
<polygon class="g" points="431.8,350.0 449.7,350.0 449.3,353.7 450.8,351.5 452.2,350.0 454.0,350.0 454.0,367.5 452.2,368.3 448.6,370.4 445.7,371.2 442.8,370.8 442.0,367.5 442.4,364.6 440.6,363.1 439.1,361.7 437.6,362.4 435.5,359.5 434.0,355.8 432.5,352.9"/>
<polygon class="y" points="449.3,350.0 451.9,350.0 450.4,352.2 449.3,354.0"/>
<polygon class="y" points="444.1,359.1 444.9,359.1 444.9,360.2 444.1,360.2"/>
<polygon class="y" points="435.5,350.0 438.4,350.0 437.6,352.2"/>
<polygon class="g" points="388.0,368.3 390.2,369.0 393.1,369.7 397.5,369.3 402.6,369.0 405.5,367.9 408.4,371.2 412.1,371.9 412.8,375.6 413.2,385.0 413.2,392.0 412.1,392.0 411.7,385.0 409.9,385.0 409.9,382.9 408.4,383.2 408.1,386.5 404.8,386.9 403.3,386.5 401.1,384.3 396.8,385.0 392.4,385.0 388.0,385.4"/>
<polygon class="g" points="413.2,385.0 415.7,385.8 420.1,385.0 424.5,383.9 428.9,385.0 432.5,385.8 434.7,386.1 434.7,392.0 413.2,392.0"/>
<polygon class="g" points="434.7,371.9 436.6,370.4 439.1,372.6 441.3,374.1 442.4,377.7 442.4,384.3 442.0,386.1 439.1,385.8 435.5,386.1 434.0,380.7 434.0,374.8"/>
<polygon class="g" points="442.0,385.8 446.4,384.3 450.8,383.9 454.0,383.9 454.0,392.0 442.0,392.0"/>
<polygon class="o" points="443.1,375.2 443.7,375.2 443.7,378.8 443.1,378.8"/>
<polygon class="g" points="454.0,350.0 520.0,350.0 520.0,392.0 454.0,392.0"/>
<polygon class="y" points="454.0,361.7 456.2,360.2 456.6,354.4 459.1,352.2 461.3,351.1 464.2,351.5 467.9,352.9 470.8,355.1 474.4,356.9 478.1,358.0 481.0,358.8 484.7,359.1 487.6,361.7 488.3,359.5 486.1,355.8 483.2,352.9 481.4,350.0 494.9,350.0 493.8,354.4 493.4,361.0 492.7,361.7 492.7,354.4 492.0,352.9 491.2,357.3 490.9,363.1 491.2,371.9 488.3,371.2 484.7,370.1 482.5,371.5 478.8,370.4 475.2,370.8 470.8,369.3 467.1,369.7 463.5,368.3 461.3,369.0 458.4,369.7 456.9,370.4 457.3,372.6 455.5,374.1 455.1,380.7 454.0,384.3"/>
<polygon class="g" points="487.2,350.0 488.3,350.0 487.9,354.4 487.2,352.9"/>
<polygon class="g" points="490.1,350.0 491.2,350.0 490.9,355.1 490.1,356.6"/>
<polygon class="y" points="497.8,356.6 499.3,355.1 500.7,355.8 500.4,360.2 497.8,361.7 497.4,359.5"/>
<polygon class="y" points="502.2,353.7 504.4,354.4 504.7,355.8 502.9,358.8 502.2,357.3"/>
<polygon class="y" points="507.3,352.2 509.5,350.0 517.9,350.0 515.3,352.2 511.7,354.4 508.8,356.6 507.3,355.8"/>
<polygon class="y" points="492.0,363.1 493.1,363.1 493.1,364.2 492.0,364.2"/>
<polygon class="y" points="492.0,371.9 494.9,371.5 498.5,370.4 500.7,371.9 503.6,370.8 506.6,372.6 508.0,369.7 512.4,370.4 514.6,368.3 516.8,367.5 517.5,365.3 518.2,367.5 520.0,367.2 520.0,385.0 492.0,385.0"/>
<polygon class="y" points="456.2,385.8 457.7,384.3 465.0,384.3 468.6,385.0 485.4,385.0 489.0,385.8 492.0,385.0 492.0,392.0 454.0,392.0 454.0,386.5"/>
<polygon class="g" points="520.0,350.0 541.2,350.0 541.9,354.4 543.4,359.5 543.7,363.1 543.0,362.4 541.2,358.8 539.0,355.1 536.8,351.5 534.6,352.9 532.4,354.4 532.0,359.5 531.0,363.1 529.5,366.8 526.6,367.2 522.9,367.5 520.0,366.1"/>
<polygon class="y" points="522.9,364.2 523.8,364.2 523.8,367.2 522.9,367.2"/>
<polygon class="y" points="526.2,363.1 526.9,363.1 526.9,367.2 526.2,367.2"/>
<polygon class="y" points="529.1,363.1 529.9,363.1 529.9,367.2 529.1,367.2"/>
<polygon class="g" points="544.8,350.0 560.2,350.0 559.8,354.4 558.7,358.0 557.2,361.7 555.0,364.6 552.9,367.5 549.2,369.7 545.6,371.2 544.5,371.5 544.5,363.1 545.2,358.8 546.3,354.4 544.8,355.1 544.1,352.2"/>
<polygon class="g" points="541.9,350.0 544.1,350.0 543.7,353.7 542.6,352.9"/>
<polygon class="g" points="532.0,368.6 534.6,369.7 539.0,370.8 542.6,371.5 543.7,373.4 544.1,382.1 541.9,383.9 538.3,385.0 534.6,384.3 531.7,382.1 529.9,379.2 530.2,374.1 531.0,371.2"/>
<polygon class="g" points="520.0,384.3 524.4,383.6 528.0,384.3 530.2,386.5 531.0,389.4 530.2,392.0 520.0,392.0"/>
<polygon class="g" points="544.1,383.6 545.6,382.9 549.2,384.3 552.9,384.3 556.5,383.2 560.9,382.9 566.7,383.6 568.2,385.0 568.6,392.0 544.1,392.0"/>
<polygon class="o" points="545.2,375.2 545.8,375.2 545.8,376.6 545.2,376.6"/>
<polygon class="g" points="575.5,361.0 578.4,361.0 582.8,362.0 586.0,362.8 586.0,382.1 582.8,380.7 579.9,379.2 577.7,377.0 575.5,374.1 574.8,370.4 575.1,364.6"/>
<polygon class="y" points="582.1,364.2 582.8,364.2 582.8,365.7 582.1,365.7"/>
<polygon class="y" points="581.2,368.3 581.9,368.3 581.9,370.1 581.2,370.1"/>
<polygon class="g" points="567.1,352.2 568.2,352.9 568.6,357.3 570.4,359.5 571.1,358.0 572.6,358.8 574.4,357.3 574.8,361.7 574.0,363.1 572.6,362.4 571.1,364.6 570.4,363.1 568.9,364.6 567.5,366.8 566.7,371.9 567.5,375.6 566.7,376.3 565.3,374.8 565.6,368.3 566.4,363.1 566.7,357.3"/>
<polygon class="g" points="563.4,361.3 564.9,361.0 565.3,364.6 564.2,365.3 563.1,363.9"/>
<polygon class="g" points="571.1,366.8 572.6,366.4 574.0,371.2 574.4,379.2 574.0,386.5 573.3,386.5 572.6,382.1 571.1,379.2 570.4,375.6 570.7,371.2"/>
<polygon class="g" points="568.2,374.1 570.4,373.0 570.7,376.3 569.6,379.2 570.4,382.9 572.6,388.0 574.0,390.9 571.1,390.9 569.6,386.5 568.6,381.4 567.5,377.7 566.0,376.6"/>
<polygon class="g" points="558.0,364.2 559.1,364.2 559.1,366.8 558.0,366.8"/>
<polygon class="g" points="559.4,361.0 560.0,361.0 560.0,362.0 559.4,362.0"/>
<polygon class="g" points="574.0,389.4 577.7,390.2 578.4,392.0 574.0,392.0"/>
<polygon class="g" points="586.0,363.5 588.2,363.1 589.7,366.1 593.3,369.0 597.7,370.1 600.6,370.4 602.1,373.4 603.2,375.6 603.2,384.3 600.6,384.3 595.5,383.9 590.4,384.3 586.0,383.2"/>
<polygon class="g" points="590.0,350.0 593.3,350.0 596.2,354.4 599.1,358.0 600.2,359.1 599.9,361.0 597.0,358.0 594.0,354.4 591.8,352.2"/>
<polygon class="g" points="615.2,352.2 617.4,352.9 619.6,355.1 619.9,359.5 618.9,363.9 618.5,367.5 617.4,369.7 615.9,368.3 613.7,369.0 610.1,370.1 607.9,371.2 605.0,372.6 603.5,371.9 601.7,366.8 601.0,362.4 602.4,361.7 603.9,363.1 604.3,357.3 607.2,355.5 608.6,359.5 610.1,356.2 613.0,353.3"/>
<polygon class="g" points="600.2,350.0 601.3,350.0 601.7,352.9 600.6,355.8 599.9,352.9"/>
<polygon class="g" points="603.2,350.0 604.3,350.0 603.5,354.4 602.9,352.9"/>
<polygon class="g" points="620.3,372.6 621.8,370.4 622.1,366.1 622.5,363.1 623.2,366.8 624.7,365.7 624.3,369.0 626.9,368.3 631.3,369.3 636.4,370.4 639.3,371.9 640.4,375.6 640.0,382.1 636.4,384.3 631.3,384.3 626.9,384.7 622.5,383.6 620.3,382.1 619.9,377.7"/>
<polygon class="g" points="620.7,363.9 621.4,363.5 621.0,366.8 619.9,366.8"/>
<polygon class="g" points="625.4,350.0 629.8,350.0 633.5,352.6 637.1,356.6 638.6,360.2 638.2,362.8 636.4,360.2 633.5,356.6 629.8,352.9"/>
<polygon class="g" points="634.2,350.0 648.1,350.0 648.1,353.7 645.1,355.1 643.7,357.3 644.4,360.2 648.1,359.5 648.1,371.2 643.7,371.2 641.1,369.0 640.8,364.6 641.5,361.7 642.6,359.5 642.2,356.9 640.4,357.3 640.0,360.2 638.9,362.4 638.6,357.3 637.1,354.4"/>
<polygon class="g" points="603.2,384.3 607.9,385.0 615.2,385.0 618.9,385.0 621.0,388.0 620.3,392.0 603.2,392.0"/>
<polygon class="g" points="640.4,384.3 648.1,382.9 648.1,392.0 640.4,392.0"/>
<polygon class="y" points="494.0,262.0 527.0,262.0 527.0,306.0 494.0,306.0"/>
<polygon class="g" points="494.0,262.0 496.0,262.0 496.0,264.7 494.0,266.0"/>
<polygon class="g" points="505.1,262.0 508.5,262.0 507.8,264.0 506.5,265.0 505.4,263.7"/>
<polygon class="g" points="500.4,270.8 501.4,271.4 502.4,274.8 503.8,271.4 504.8,271.1 505.1,277.5 504.1,284.2 503.4,290.3 503.1,295.0 502.4,293.7 502.8,287.6 502.1,279.5 501.1,279.2 500.7,283.6 499.4,284.2 498.8,278.8 499.1,273.4"/>
<polygon class="g" points="494.0,280.9 495.7,282.2 496.4,284.9 495.7,287.9 494.0,288.9"/>
<polygon class="g" points="509.8,262.0 527.0,262.0 527.0,290.3 524.6,287.3 522.3,288.9 522.3,298.4 520.9,306.0 514.2,306.0 514.9,299.7 517.6,295.7 520.6,288.9 520.9,280.9 519.3,275.5 518.2,273.1 516.9,277.5 514.9,284.2 512.9,291.6 510.2,298.4 509.2,306.0 496.0,306.0 497.0,298.4 498.0,293.0 499.1,292.3 500.7,295.7 502.8,291.6 503.4,295.0 505.1,290.3 507.5,284.2 510.8,281.5 513.5,275.5 514.2,269.4 512.2,268.7 510.2,268.7"/>
<polygon class="y" points="519.9,262.0 525.0,262.0 524.3,264.7 520.9,266.7 519.3,264.7"/>
<polygon class="g" points="494.0,303.8 495.3,305.1 495.7,306.0 494.0,306.0"/>
</g>
<path d="M271.5 392V387M271.5 131V136" stroke="#000" stroke-width="1" fill="none"/>
<path d="M286.5 392V387M286.5 131V136" stroke="#000" stroke-width="1" fill="none"/>
<path d="M301.5 392V387M301.5 131V136" stroke="#000" stroke-width="1" fill="none"/>
<path d="M317.5 392V387M317.5 131V136" stroke="#000" stroke-width="1" fill="none"/>
<path d="M332.0 392V382M332.0 131V141" stroke="#000" stroke-width="2" fill="none"/>
<path d="M347.5 392V387M347.5 131V136" stroke="#000" stroke-width="1" fill="none"/>
<path d="M363.5 392V387M363.5 131V136" stroke="#000" stroke-width="1" fill="none"/>
<path d="M378.5 392V387M378.5 131V136" stroke="#000" stroke-width="1" fill="none"/>
<path d="M393.5 392V387M393.5 131V136" stroke="#000" stroke-width="1" fill="none"/>
<path d="M409.0 392V382M409.0 131V141" stroke="#000" stroke-width="2" fill="none"/>
<path d="M424.5 392V387M424.5 131V136" stroke="#000" stroke-width="1" fill="none"/>
<path d="M440.5 392V387M440.5 131V136" stroke="#000" stroke-width="1" fill="none"/>
<path d="M455.5 392V387M455.5 131V136" stroke="#000" stroke-width="1" fill="none"/>
<path d="M470.5 392V387M470.5 131V136" stroke="#000" stroke-width="1" fill="none"/>
<path d="M486.0 392V382M486.0 131V141" stroke="#000" stroke-width="2" fill="none"/>
<path d="M501.5 392V387M501.5 131V136" stroke="#000" stroke-width="1" fill="none"/>
<path d="M516.5 392V387M516.5 131V136" stroke="#000" stroke-width="1" fill="none"/>
<path d="M532.5 392V387M532.5 131V136" stroke="#000" stroke-width="1" fill="none"/>
<path d="M547.5 392V387M547.5 131V136" stroke="#000" stroke-width="1" fill="none"/>
<path d="M562.0 392V382M562.0 131V141" stroke="#000" stroke-width="2" fill="none"/>
<path d="M578.5 392V387M578.5 131V136" stroke="#000" stroke-width="1" fill="none"/>
<path d="M593.5 392V387M593.5 131V136" stroke="#000" stroke-width="1" fill="none"/>
<path d="M608.5 392V387M608.5 131V136" stroke="#000" stroke-width="1" fill="none"/>
<path d="M624.5 392V387M624.5 131V136" stroke="#000" stroke-width="1" fill="none"/>
<path d="M639.0 392V382M639.0 131V141" stroke="#000" stroke-width="2" fill="none"/>
<path d="M256 376.5H261M648 376.5H643" stroke="#000" stroke-width="1" fill="none"/>
<path d="M256 359.5H261M648 359.5H643" stroke="#000" stroke-width="1" fill="none"/>
<path d="M256 341.5H261M648 341.5H643" stroke="#000" stroke-width="1" fill="none"/>
<path d="M256 323.5H261M648 323.5H643" stroke="#000" stroke-width="1" fill="none"/>
<path d="M256 306.0H266M648 306.0H638" stroke="#000" stroke-width="2" fill="none"/>
<path d="M256 288.5H261M648 288.5H643" stroke="#000" stroke-width="1" fill="none"/>
<path d="M256 270.5H261M648 270.5H643" stroke="#000" stroke-width="1" fill="none"/>
<path d="M256 253.5H261M648 253.5H643" stroke="#000" stroke-width="1" fill="none"/>
<path d="M256 235.5H261M648 235.5H643" stroke="#000" stroke-width="1" fill="none"/>
<path d="M256 218.0H266M648 218.0H638" stroke="#000" stroke-width="2" fill="none"/>
<path d="M256 200.5H261M648 200.5H643" stroke="#000" stroke-width="1" fill="none"/>
<path d="M256 182.5H261M648 182.5H643" stroke="#000" stroke-width="1" fill="none"/>
<path d="M256 165.5H261M648 165.5H643" stroke="#000" stroke-width="1" fill="none"/>
<path d="M256 147.5H261M648 147.5H643" stroke="#000" stroke-width="1" fill="none"/>
<rect x="256" y="131" width="392" height="261" fill="none" stroke="#000" stroke-width="2"/>
<rect x="664" y="196.0" width="13" height="18.7" fill="#ffbfbf"/>
<rect x="664" y="214.7" width="13" height="19.9" fill="#ff7777"/>
<rect x="664" y="234.6" width="13" height="17.9" fill="#ff1111"/>
<rect x="664" y="252.5" width="13" height="18.1" fill="#ff6600"/>
<rect x="664" y="270.6" width="13" height="6.1" fill="#ff9900"/>
<rect x="664" y="276.7" width="13" height="6.0" fill="#ffcc00"/>
<rect x="664" y="282.7" width="13" height="6.3" fill="#f0ff00"/>
<rect x="664" y="289.0" width="13" height="6.7" fill="#00ff55"/>
<rect x="664" y="295.7" width="13" height="6.0" fill="#00f0ff"/>
<rect x="664" y="301.7" width="13" height="6.3" fill="#0033ff"/>
<rect x="664" y="308.0" width="13" height="17.5" fill="#0000aa"/>
<rect x="664" y="325.5" width="13" height="19.2" fill="#6600aa"/>
<rect x="664" y="344.7" width="13" height="18.0" fill="#bb00aa"/>
<rect x="664" y="362.7" width="13" height="29.3" fill="#ee00aa"/>
<path d="M664 214.7H677" stroke="#000" stroke-width="1.6"/>
<path d="M664 234.6H677" stroke="#000" stroke-width="1.6"/>
<path d="M664 252.5H677" stroke="#000" stroke-width="1.6"/>
<path d="M664 270.6H677" stroke="#000" stroke-width="1.6"/>
<path d="M664 276.7H677" stroke="#000" stroke-width="1.6"/>
<path d="M664 282.7H677" stroke="#000" stroke-width="1.6"/>
<path d="M664 289.0H677" stroke="#000" stroke-width="1.6"/>
<path d="M664 295.7H677" stroke="#000" stroke-width="1.6"/>
<path d="M664 301.7H677" stroke="#000" stroke-width="1.6"/>
<path d="M664 308.0H677" stroke="#000" stroke-width="1.6"/>
<path d="M664 325.5H677" stroke="#000" stroke-width="1.6"/>
<path d="M664 344.7H677" stroke="#000" stroke-width="1.6"/>
<path d="M664 362.7H677" stroke="#000" stroke-width="1.6"/>
<path d="M664 196L670.5 167L677 196Z" fill="#ffe0e0" stroke="#000" stroke-width="1.8" stroke-linejoin="miter"/>
<rect x="664" y="196" width="13" height="196" fill="none" stroke="#000" stroke-width="2"/>
<path class="t" stroke-width="1.60" d="M364.28 84.00 L352.78 84.00 L364.28 70.56 L352.78 70.56M369.08 78.24 L369.08 76.32 L370.04 73.44 L371.96 71.52 L373.88 70.56 L376.75 70.56 L378.67 71.52 L380.59 73.44 L381.55 76.32 L381.55 78.24 L380.59 81.12 L378.67 83.04 L376.75 84.00 L373.88 84.00 L371.96 83.04 L370.04 81.12 L369.08 78.24M388.26 84.00 L388.26 70.56M388.26 74.40 L391.14 71.52 L393.05 70.56 L395.93 70.56 L397.85 71.52 L398.81 74.40 L398.81 84.00M417.03 81.12 L415.11 83.04 L413.19 84.00 L410.32 84.00 L408.40 83.04 L406.48 81.12 L405.52 78.24 L405.52 76.32 L406.48 73.44 L408.40 71.52 L410.32 70.56 L413.19 70.56 L415.11 71.52 L417.03 73.44M417.03 84.00 L417.03 70.56M424.70 84.00 L424.70 63.84M445.80 70.56 L451.55 84.00 L457.31 70.56M462.10 76.32 L462.10 78.24 L463.06 81.12 L464.98 83.04 L466.90 84.00 L469.77 84.00 L471.69 83.04 L473.61 81.12M462.10 76.32 L463.06 73.44 L464.98 71.52 L466.90 70.56 L469.77 70.56 L471.69 71.52 L472.65 72.48 L473.61 74.40 L473.61 76.32 L462.10 76.32M480.32 84.00 L480.32 63.84M487.04 78.24 L487.04 76.32 L488.00 73.44 L489.91 71.52 L491.83 70.56 L494.71 70.56 L496.63 71.52 L498.54 73.44 L499.50 76.32 L499.50 78.24 L498.54 81.12 L496.63 83.04 L494.71 84.00 L491.83 84.00 L489.91 83.04 L488.00 81.12 L487.04 78.24M516.77 81.12 L514.85 83.04 L512.93 84.00 L510.05 84.00 L508.13 83.04 L506.22 81.12 L505.26 78.24 L505.26 76.32 L506.22 73.44 L508.13 71.52 L510.05 70.56 L512.93 70.56 L514.85 71.52 L516.77 73.44M523.48 84.00 L523.48 70.56M522.52 63.84 L523.48 64.80 L524.44 63.84 L523.48 62.88 L522.52 63.84M529.23 70.56 L535.95 70.56M532.11 63.84 L532.11 80.16 L533.07 83.04 L534.99 84.00 L536.90 84.00M539.78 90.72 L540.74 90.72 L542.66 89.76 L544.58 87.84 L546.50 84.00 L540.74 70.56M546.50 84.00 L552.25 70.56"/>
<path class="t" stroke-width="1.80" d="M169.66 108.93 L168.54 108.17 L167.42 107.02 L166.30 105.49 L165.74 103.58 L165.74 102.05 L166.30 100.13 L167.42 98.60 L168.54 97.46 L169.66 96.69M174.70 106.64 L182.54 99.75M174.70 99.75 L182.54 106.64M189.26 98.73 L190.38 98.22 L192.06 96.69 L192.06 107.40M206.62 107.40 L199.34 107.40 L199.34 96.69 L206.62 96.69M199.34 101.79 L203.82 101.79M217.82 103.83 L209.42 103.83 L215.02 96.69 L215.02 107.40M230.14 107.40 L230.14 100.26M230.14 102.30 L231.82 100.77 L232.94 100.26 L234.62 100.26 L235.74 100.77 L236.30 102.30 L236.30 107.40M236.30 102.30 L237.98 100.77 L239.10 100.26 L240.78 100.26 L241.90 100.77 L242.46 102.30 L242.46 107.40M246.38 108.93 L247.50 108.17 L248.62 107.02 L249.74 105.49 L250.30 103.58 L250.30 102.05 L249.74 100.13 L248.62 98.60 L247.50 97.46 L246.38 96.69"/>
<path class="t" stroke-width="1.80" d="M572.66 438.13 L571.54 437.37 L570.42 436.22 L569.30 434.69 L568.74 432.78 L568.74 431.25 L569.30 429.33 L570.42 427.80 L571.54 426.66 L572.66 425.89M577.70 435.84 L585.54 428.95M577.70 428.95 L585.54 435.84M592.26 427.93 L593.38 427.42 L595.06 425.89 L595.06 436.60M609.62 436.60 L602.34 436.60 L602.34 425.89 L609.62 425.89M602.34 430.99 L606.82 430.99M612.42 434.56 L612.98 435.58 L613.54 436.09 L615.22 436.60 L616.90 436.60 L618.58 436.09 L619.70 435.07 L620.26 433.54 L620.26 432.52 L619.70 430.99 L618.58 429.97 L616.90 429.46 L615.22 429.46 L613.54 429.97 L612.98 430.48 L613.54 425.89 L619.14 425.89M633.14 436.60 L633.14 429.46M633.14 431.50 L634.82 429.97 L635.94 429.46 L637.62 429.46 L638.74 429.97 L639.30 431.50 L639.30 436.60M639.30 431.50 L640.98 429.97 L642.10 429.46 L643.78 429.46 L644.90 429.97 L645.46 431.50 L645.46 436.60M649.38 438.13 L650.50 437.37 L651.62 436.22 L652.74 434.69 L653.30 432.78 L653.30 431.25 L652.74 429.33 L651.62 427.80 L650.50 426.66 L649.38 425.89"/>
<path class="t" stroke-width="1.20" d="M656.77 134.90 L660.53 134.90M658.38 131.40 L658.38 139.90 L658.92 141.40 L660.00 141.90 L661.07 141.90M664.29 138.90 L673.96 138.90M664.29 135.90 L673.96 135.90M679.33 133.40 L680.40 132.90 L682.01 131.40 L682.01 141.90M688.46 139.90 L688.46 138.40 L688.99 137.40 L690.07 136.40 L691.68 135.90 L693.83 135.40 L694.90 134.90 L695.44 133.90 L695.44 132.90 L694.90 131.90 L693.29 131.40 L691.14 131.40 L689.53 131.90 L688.99 132.90 L688.99 133.90 L689.53 134.90 L690.61 135.40 L692.75 135.90 L694.36 136.40 L695.44 137.40 L695.98 138.40 L695.98 139.90 L695.44 140.90 L694.90 141.40 L693.29 141.90 L691.14 141.90 L689.53 141.40 L688.99 140.90 L688.46 139.90M699.20 137.40 L699.20 135.90 L699.73 133.40 L700.81 131.90 L702.42 131.40 L703.49 131.40 L705.10 131.90 L706.18 133.40 L706.72 135.90 L706.72 137.40 L706.18 139.90 L705.10 141.40 L703.49 141.90 L702.42 141.90 L700.81 141.40 L699.73 139.90 L699.20 137.40M709.94 137.40 L709.94 135.90 L710.47 133.40 L711.55 131.90 L713.16 131.40 L714.23 131.40 L715.84 131.90 L716.92 133.40 L717.46 135.90 L717.46 137.40 L716.92 139.90 L715.84 141.40 L714.23 141.90 L713.16 141.90 L711.55 141.40 L710.47 139.90 L709.94 137.40M720.68 137.40 L720.68 135.90 L721.21 133.40 L722.29 131.90 L723.90 131.40 L724.97 131.40 L726.58 131.90 L727.66 133.40 L728.20 135.90 L728.20 137.40 L727.66 139.90 L726.58 141.40 L724.97 141.90 L723.90 141.90 L722.29 141.40 L721.21 139.90 L720.68 137.40"/>
<path class="t" stroke-width="1.20" d="M739.18 140.40 L739.70 141.40 L741.27 141.90 L742.85 141.90 L744.43 141.40 L744.95 140.40 L744.95 139.90 L744.43 138.90 L743.38 138.40 L740.75 137.90 L739.70 137.40 L739.18 136.40 L739.70 135.40 L741.27 134.90 L742.85 134.90 L744.43 135.40 L744.95 136.40"/>
<path class="t" stroke-width="1.70" d="M373.71 467.70 L384.47 453.00M373.71 453.00 L384.47 467.70M389.86 461.40 L403.70 461.40M418.31 465.60 L416.77 467.00 L415.23 467.70 L412.93 467.70 L411.39 467.00 L409.85 465.60 L409.08 463.50 L409.08 462.10 L409.85 460.00 L411.39 458.60 L412.93 457.90 L415.23 457.90 L416.77 458.60 L418.31 460.00M422.92 463.50 L422.92 462.10 L423.69 460.00 L425.23 458.60 L426.77 457.90 L429.07 457.90 L430.61 458.60 L432.15 460.00 L432.92 462.10 L432.92 463.50 L432.15 465.60 L430.61 467.00 L429.07 467.70 L426.77 467.70 L425.23 467.00 L423.69 465.60 L422.92 463.50M437.53 463.50 L437.53 462.10 L438.30 460.00 L439.84 458.60 L441.38 457.90 L443.69 457.90 L445.22 458.60 L446.76 460.00 L447.53 462.10 L447.53 463.50 L446.76 465.60 L445.22 467.00 L443.69 467.70 L441.38 467.70 L439.84 467.00 L438.30 465.60 L437.53 463.50M452.91 467.70 L452.91 457.90M452.91 462.10 L453.68 460.00 L455.22 458.60 L456.76 457.90 L459.07 457.90M471.37 465.60 L469.83 467.00 L468.29 467.70 L465.99 467.70 L464.45 467.00 L462.91 465.60 L462.14 463.50 L462.14 462.10 L462.91 460.00 L464.45 458.60 L465.99 457.90 L468.29 457.90 L469.83 458.60 L471.37 460.00M471.37 467.70 L471.37 453.00M477.52 467.70 L477.52 457.90M476.75 453.00 L477.52 453.70 L478.29 453.00 L477.52 452.30 L476.75 453.00M483.67 467.70 L483.67 457.90M483.67 460.70 L485.98 458.60 L487.52 457.90 L489.83 457.90 L491.36 458.60 L492.13 460.70 L492.13 467.70M506.74 465.60 L505.21 467.00 L503.67 467.70 L501.36 467.70 L499.82 467.00 L498.28 465.60 L497.52 463.50 L497.52 462.10 L498.28 460.00 L499.82 458.60 L501.36 457.90 L503.67 457.90 L505.21 458.60 L506.74 460.00M506.74 467.70 L506.74 457.90M511.36 457.90 L516.74 457.90M513.66 453.00 L513.66 464.90 L514.43 467.00 L515.97 467.70 L517.51 467.70M521.36 462.10 L521.36 463.50 L522.12 465.60 L523.66 467.00 L525.20 467.70 L527.51 467.70 L529.04 467.00 L530.58 465.60M521.36 462.10 L522.12 460.00 L523.66 458.60 L525.20 457.90 L527.51 457.90 L529.04 458.60 L529.81 459.30 L530.58 460.70 L530.58 462.10 L521.36 462.10"/>
<path class="t" stroke-width="1.70" d="M215.40 327.55 L215.40 338.05 L200.70 327.55 L200.70 338.05M209.10 322.30 L209.10 308.80M213.30 294.55 L214.70 296.05 L215.40 297.55 L215.40 299.80 L214.70 301.30 L213.30 302.80 L211.20 303.55 L209.80 303.55 L207.70 302.80 L206.30 301.30 L205.60 299.80 L205.60 297.55 L206.30 296.05 L207.70 294.55M211.20 290.05 L209.80 290.05 L207.70 289.30 L206.30 287.80 L205.60 286.30 L205.60 284.05 L206.30 282.55 L207.70 281.05 L209.80 280.30 L211.20 280.30 L213.30 281.05 L214.70 282.55 L215.40 284.05 L215.40 286.30 L214.70 287.80 L213.30 289.30 L211.20 290.05M211.20 275.80 L209.80 275.80 L207.70 275.05 L206.30 273.55 L205.60 272.05 L205.60 269.80 L206.30 268.30 L207.70 266.80 L209.80 266.05 L211.20 266.05 L213.30 266.80 L214.70 268.30 L215.40 269.80 L215.40 272.05 L214.70 273.55 L213.30 275.05 L211.20 275.80M215.40 260.80 L205.60 260.80M209.80 260.80 L207.70 260.05 L206.30 258.55 L205.60 257.05 L205.60 254.80M213.30 242.80 L214.70 244.30 L215.40 245.80 L215.40 248.05 L214.70 249.55 L213.30 251.05 L211.20 251.80 L209.80 251.80 L207.70 251.05 L206.30 249.55 L205.60 248.05 L205.60 245.80 L206.30 244.30 L207.70 242.80M215.40 242.80 L200.70 242.80M215.40 236.80 L205.60 236.80M200.70 237.55 L201.40 236.80 L200.70 236.05 L200.00 236.80 L200.70 237.55M215.40 230.80 L205.60 230.80M208.40 230.80 L206.30 228.55 L205.60 227.05 L205.60 224.80 L206.30 223.30 L208.40 222.55 L215.40 222.55M213.30 208.30 L214.70 209.80 L215.40 211.30 L215.40 213.55 L214.70 215.05 L213.30 216.55 L211.20 217.30 L209.80 217.30 L207.70 216.55 L206.30 215.05 L205.60 213.55 L205.60 211.30 L206.30 209.80 L207.70 208.30M215.40 208.30 L205.60 208.30M205.60 203.80 L205.60 198.55M200.70 201.55 L212.60 201.55 L214.70 200.80 L215.40 199.30 L215.40 197.80M209.80 194.05 L211.20 194.05 L213.30 193.30 L214.70 191.80 L215.40 190.30 L215.40 188.05 L214.70 186.55 L213.30 185.05M209.80 194.05 L207.70 193.30 L206.30 191.80 L205.60 190.30 L205.60 188.05 L206.30 186.55 L207.00 185.80 L208.40 185.05 L209.80 185.05 L209.80 194.05"/>
<path class="t" stroke-width="2.00" d="M329.70 404.55 L330.90 404.00 L332.70 402.35 L332.70 413.90"/>
<path class="t" stroke-width="2.00" d="M413.02 413.90 L404.62 413.90 L410.62 408.40 L411.82 406.75 L412.42 405.65 L412.42 404.55 L411.82 403.45 L411.22 402.90 L410.02 402.35 L407.62 402.35 L406.42 402.90 L405.82 403.45 L405.22 404.55 L405.22 405.10"/>
<path class="t" stroke-width="2.00" d="M481.34 411.70 L481.94 412.80 L482.54 413.35 L484.34 413.90 L486.14 413.90 L487.94 413.35 L489.14 412.25 L489.74 410.60 L489.74 409.50 L489.14 407.85 L488.54 407.30 L487.34 406.75 L485.54 406.75 L489.14 402.35 L482.54 402.35"/>
<path class="t" stroke-width="2.00" d="M567.06 410.05 L558.06 410.05 L564.06 402.35 L564.06 413.90"/>
<path class="t" stroke-width="2.00" d="M634.78 411.70 L635.38 412.80 L635.98 413.35 L637.78 413.90 L639.58 413.90 L641.38 413.35 L642.58 412.25 L643.18 410.60 L643.18 409.50 L642.58 407.85 L641.38 406.75 L639.58 406.20 L637.78 406.20 L635.98 406.75 L635.38 407.30 L635.98 402.35 L641.98 402.35"/>
<path class="t" stroke-width="2.00" d="M237.80 301.55 L239.00 301.00 L240.80 299.35 L240.80 310.90"/>
<path class="t" stroke-width="2.00" d="M244.40 222.60 L236.00 222.60 L242.00 217.10 L243.20 215.45 L243.80 214.35 L243.80 213.25 L243.20 212.15 L242.60 211.60 L241.40 211.05 L239.00 211.05 L237.80 211.60 L237.20 212.15 L236.60 213.25 L236.60 213.80"/>
<path class="t" stroke-width="2.10" d="M689.30 192.38 L690.30 191.85 L691.80 190.28 L691.80 201.30M697.80 199.20 L698.30 200.25 L698.80 200.78 L700.30 201.30 L701.80 201.30 L703.30 200.78 L704.30 199.73 L704.80 198.15 L704.80 197.10 L704.30 195.53 L703.30 194.48 L701.80 193.95 L700.30 193.95 L698.80 194.48 L698.30 195.00 L698.80 190.28 L703.80 190.28M708.30 200.78 L708.80 201.30 L709.30 200.78 L708.80 200.25 L708.30 200.78M714.30 192.38 L715.30 191.85 L716.80 190.28 L716.80 201.30"/>
<path class="t" stroke-width="2.10" d="M688.30 254.12 L688.30 251.50 L688.80 248.88 L689.80 247.30 L691.30 246.78 L692.30 246.78 L693.80 247.30 L694.30 248.35M688.30 254.12 L688.80 256.23 L689.80 257.28 L691.30 257.80 L691.80 257.80 L693.30 257.28 L694.30 256.23 L694.80 254.65 L694.80 254.12 L694.30 252.55 L693.30 251.50 L691.80 250.98 L691.30 250.98 L689.80 251.50 L688.80 252.55 L688.30 254.12"/>
<path class="t" stroke-width="2.10" d="M689.30 279.07 L690.30 278.55 L691.80 276.98 L691.80 288.00"/>
<path class="t" stroke-width="2.10" d="M688.30 302.27 L697.30 302.27M707.80 307.00 L700.80 307.00 L705.80 301.75 L706.80 300.18 L707.30 299.12 L707.30 298.07 L706.80 297.02 L706.30 296.50 L705.30 295.98 L703.30 295.98 L702.30 296.50 L701.80 297.02 L701.30 298.07 L701.30 298.60"/>
<path class="t" stroke-width="2.10" d="M688.30 345.27 L697.30 345.27M701.30 348.43 L701.80 349.48 L703.30 350.00 L704.30 350.00 L705.80 349.48 L706.80 347.90 L707.30 345.27 L707.30 342.65 L706.80 344.23 L705.80 345.27 L704.30 345.80 L703.80 345.80 L702.30 345.27 L701.30 344.23 L700.80 342.65 L700.80 342.12 L701.30 340.55 L702.30 339.50 L703.80 338.98 L704.30 338.98 L705.80 339.50 L706.80 340.55 L707.30 342.65"/>
</svg>
<p class="lbl" style="left:351px;top:62px;font-size:28px">zonal velocity</p>
<p class="lbl" style="left:165px;top:96px;font-size:15px">(×1E4 m)</p>
<p class="lbl" style="left:656px;top:131px;font-size:14px">t=18000 s</p>
<p class="lbl" style="left:200px;top:255px;font-size:20px">Z-coordinate</p>
<p class="lbl" style="left:373px;top:452px;font-size:20px">X-coordinate</p>
<p class="lbl" style="left:568px;top:424px;font-size:15px">(×1E5 m)</p>
<p class="lbl" style="left:329px;top:401px;font-size:14px">1</p>
<p class="lbl" style="left:405px;top:401px;font-size:14px">2</p>
<p class="lbl" style="left:482px;top:401px;font-size:14px">3</p>
<p class="lbl" style="left:558px;top:401px;font-size:14px">4</p>
<p class="lbl" style="left:635px;top:401px;font-size:14px">5</p>
<p class="lbl" style="left:235px;top:211px;font-size:14px">2</p>
<p class="lbl" style="left:237px;top:298px;font-size:14px">1</p>
<p class="lbl" style="left:688px;top:189px;font-size:14px">15.1</p>
<p class="lbl" style="left:688px;top:246px;font-size:14px">6</p>
<p class="lbl" style="left:688px;top:276px;font-size:14px">1</p>
<p class="lbl" style="left:688px;top:295px;font-size:14px">−2</p>
<p class="lbl" style="left:688px;top:338px;font-size:14px">−9</p>
</body></html>
